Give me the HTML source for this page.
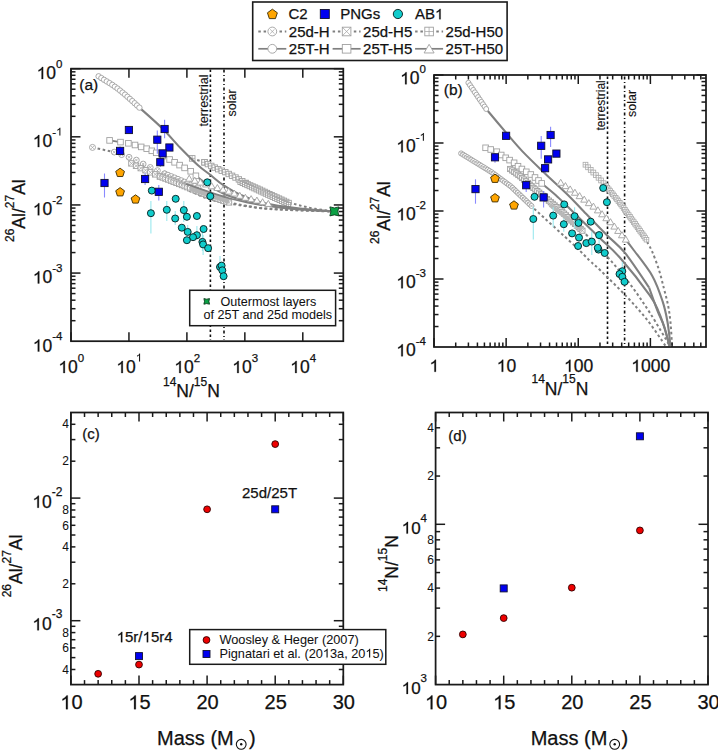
<!DOCTYPE html><html><head><meta charset="utf-8"><style>svg,text{font-family:"Liberation Sans",sans-serif}text{stroke:#111;stroke-width:0.25px}.o1{fill:transparent;stroke:transparent}html,body{margin:0;padding:0;background:#fff;width:718px;height:750px;overflow:hidden;position:relative}</style></head><body><svg width="718" height="750" viewBox="0 0 718 750" style="position:absolute;left:0;top:0" fill="#111">
<defs><clipPath id="ca"><rect x="71" y="68.4" width="272" height="272.8"/></clipPath><clipPath id="cb"><rect x="434" y="75" width="272" height="272"/></clipPath></defs>
<g clip-path="url(#ca)">
<line x1="210.4" y1="69.5" x2="210.4" y2="340" stroke="#111" stroke-width="1.6" stroke-dasharray="2.4,2.6"/>
<line x1="224" y1="69.5" x2="224" y2="340" stroke="#111" stroke-width="1.6" stroke-dasharray="3,2.4,1.2,2.4"/>
<text transform="translate(208.2,126.6) rotate(-90)" font-size="12.5" style="stroke-width:0.1px">terrestrial</text>
<text transform="translate(236,116.5) rotate(-90)" font-size="12.5" style="stroke-width:0.1px">solar</text>
<path d="M289.00,202.50 C290.83,203.00 295.67,204.45 300.00,205.50 C304.33,206.55 309.33,207.82 315.00,208.80 C320.67,209.78 330.83,210.97 334.00,211.40" fill="none" stroke="#808080" stroke-width="2.0" stroke-dasharray="2.6,2.6" stroke-linejoin="round"/>
<path d="M192.20,158.40 L204.50,162.30" fill="none" stroke="#808080" stroke-width="2.0" stroke-dasharray="2.6,2.6" stroke-linejoin="round"/>
<rect x="189.40" y="155.60" width="5.6" height="5.6" fill="#fff" stroke="#a0a0a0" stroke-width="0.9"/><path d="M192.20,155.60L192.20,161.20M189.40,158.40L195.00,158.40" stroke="#a0a0a0" stroke-width="0.7200000000000001"/>
<rect x="201.70" y="159.50" width="5.6" height="5.6" fill="#fff" stroke="#a0a0a0" stroke-width="0.9"/><path d="M204.50,159.50L204.50,165.10M201.70,162.30L207.30,162.30" stroke="#a0a0a0" stroke-width="0.7200000000000001"/>
<rect x="201.80" y="159.60" width="5.4" height="5.4" fill="#fff" stroke="#a0a0a0" stroke-width="0.9"/><path d="M204.50,159.60L204.50,165.00M201.80,162.30L207.20,162.30" stroke="#a0a0a0" stroke-width="0.7200000000000001"/>
<rect x="205.19" y="161.40" width="5.4" height="5.4" fill="#fff" stroke="#a0a0a0" stroke-width="0.9"/><path d="M207.89,161.40L207.89,166.80M205.19,164.10L210.59,164.10" stroke="#a0a0a0" stroke-width="0.7200000000000001"/>
<rect x="208.59" y="163.20" width="5.4" height="5.4" fill="#fff" stroke="#a0a0a0" stroke-width="0.9"/><path d="M211.29,163.20L211.29,168.60M208.59,165.90L213.99,165.90" stroke="#a0a0a0" stroke-width="0.7200000000000001"/>
<rect x="212.03" y="164.90" width="5.4" height="5.4" fill="#fff" stroke="#a0a0a0" stroke-width="0.9"/><path d="M214.73,164.90L214.73,170.30M212.03,167.60L217.43,167.60" stroke="#a0a0a0" stroke-width="0.7200000000000001"/>
<rect x="215.52" y="166.51" width="5.4" height="5.4" fill="#fff" stroke="#a0a0a0" stroke-width="0.9"/><path d="M218.22,166.51L218.22,171.91M215.52,169.21L220.92,169.21" stroke="#a0a0a0" stroke-width="0.7200000000000001"/>
<rect x="219.06" y="168.01" width="5.4" height="5.4" fill="#fff" stroke="#a0a0a0" stroke-width="0.9"/><path d="M221.76,168.01L221.76,173.41M219.06,170.71L224.46,170.71" stroke="#a0a0a0" stroke-width="0.7200000000000001"/>
<rect x="222.62" y="169.45" width="5.4" height="5.4" fill="#fff" stroke="#a0a0a0" stroke-width="0.9"/><path d="M225.32,169.45L225.32,174.85M222.62,172.15L228.02,172.15" stroke="#a0a0a0" stroke-width="0.7200000000000001"/>
<rect x="225.99" y="171.28" width="5.4" height="5.4" fill="#fff" stroke="#a0a0a0" stroke-width="0.9"/><path d="M228.69,171.28L228.69,176.68M225.99,173.98L231.39,173.98" stroke="#a0a0a0" stroke-width="0.7200000000000001"/>
<rect x="229.38" y="173.09" width="5.4" height="5.4" fill="#fff" stroke="#a0a0a0" stroke-width="0.9"/><path d="M232.08,173.09L232.08,178.49M229.38,175.79L234.78,175.79" stroke="#a0a0a0" stroke-width="0.7200000000000001"/>
<rect x="232.81" y="174.83" width="5.4" height="5.4" fill="#fff" stroke="#a0a0a0" stroke-width="0.9"/><path d="M235.51,174.83L235.51,180.23M232.81,177.53L238.21,177.53" stroke="#a0a0a0" stroke-width="0.7200000000000001"/>
<rect x="236.16" y="176.70" width="5.4" height="5.4" fill="#fff" stroke="#a0a0a0" stroke-width="0.9"/><path d="M238.86,176.70L238.86,182.10M236.16,179.40L241.56,179.40" stroke="#a0a0a0" stroke-width="0.7200000000000001"/>
<rect x="239.56" y="178.48" width="5.4" height="5.4" fill="#fff" stroke="#a0a0a0" stroke-width="0.9"/><path d="M242.26,178.48L242.26,183.88M239.56,181.18L244.96,181.18" stroke="#a0a0a0" stroke-width="0.7200000000000001"/>
<rect x="243.00" y="180.20" width="5.4" height="5.4" fill="#fff" stroke="#a0a0a0" stroke-width="0.9"/><path d="M245.70,180.20L245.70,185.60M243.00,182.90L248.40,182.90" stroke="#a0a0a0" stroke-width="0.7200000000000001"/>
<rect x="243.40" y="180.60" width="4.6" height="4.6" fill="#fff" stroke="#a0a0a0" stroke-width="0.9"/><path d="M245.70,180.60L245.70,185.20M243.40,182.90L248.00,182.90" stroke="#a0a0a0" stroke-width="0.7200000000000001"/>
<rect x="245.82" y="181.67" width="4.6" height="4.6" fill="#fff" stroke="#a0a0a0" stroke-width="0.9"/><path d="M248.12,181.67L248.12,186.27M245.82,183.97L250.42,183.97" stroke="#a0a0a0" stroke-width="0.7200000000000001"/>
<rect x="248.24" y="182.73" width="4.6" height="4.6" fill="#fff" stroke="#a0a0a0" stroke-width="0.9"/><path d="M250.54,182.73L250.54,187.33M248.24,185.03L252.84,185.03" stroke="#a0a0a0" stroke-width="0.7200000000000001"/>
<rect x="250.66" y="183.80" width="4.6" height="4.6" fill="#fff" stroke="#a0a0a0" stroke-width="0.9"/><path d="M252.96,183.80L252.96,188.40M250.66,186.10L255.26,186.10" stroke="#a0a0a0" stroke-width="0.7200000000000001"/>
<rect x="253.07" y="184.86" width="4.6" height="4.6" fill="#fff" stroke="#a0a0a0" stroke-width="0.9"/><path d="M255.37,184.86L255.37,189.46M253.07,187.16L257.67,187.16" stroke="#a0a0a0" stroke-width="0.7200000000000001"/>
<rect x="255.49" y="185.93" width="4.6" height="4.6" fill="#fff" stroke="#a0a0a0" stroke-width="0.9"/><path d="M257.79,185.93L257.79,190.53M255.49,188.23L260.09,188.23" stroke="#a0a0a0" stroke-width="0.7200000000000001"/>
<rect x="257.91" y="187.00" width="4.6" height="4.6" fill="#fff" stroke="#a0a0a0" stroke-width="0.9"/><path d="M260.21,187.00L260.21,191.60M257.91,189.30L262.51,189.30" stroke="#a0a0a0" stroke-width="0.7200000000000001"/>
<rect x="260.30" y="188.12" width="4.6" height="4.6" fill="#fff" stroke="#a0a0a0" stroke-width="0.9"/><path d="M262.60,188.12L262.60,192.72M260.30,190.42L264.90,190.42" stroke="#a0a0a0" stroke-width="0.7200000000000001"/>
<rect x="262.70" y="189.23" width="4.6" height="4.6" fill="#fff" stroke="#a0a0a0" stroke-width="0.9"/><path d="M265.00,189.23L265.00,193.83M262.70,191.53L267.30,191.53" stroke="#a0a0a0" stroke-width="0.7200000000000001"/>
<rect x="265.09" y="190.35" width="4.6" height="4.6" fill="#fff" stroke="#a0a0a0" stroke-width="0.9"/><path d="M267.39,190.35L267.39,194.95M265.09,192.65L269.69,192.65" stroke="#a0a0a0" stroke-width="0.7200000000000001"/>
<rect x="267.49" y="191.47" width="4.6" height="4.6" fill="#fff" stroke="#a0a0a0" stroke-width="0.9"/><path d="M269.79,191.47L269.79,196.07M267.49,193.77L272.09,193.77" stroke="#a0a0a0" stroke-width="0.7200000000000001"/>
<rect x="269.88" y="192.59" width="4.6" height="4.6" fill="#fff" stroke="#a0a0a0" stroke-width="0.9"/><path d="M272.18,192.59L272.18,197.19M269.88,194.89L274.48,194.89" stroke="#a0a0a0" stroke-width="0.7200000000000001"/>
<rect x="272.28" y="193.70" width="4.6" height="4.6" fill="#fff" stroke="#a0a0a0" stroke-width="0.9"/><path d="M274.58,193.70L274.58,198.30M272.28,196.00L276.88,196.00" stroke="#a0a0a0" stroke-width="0.7200000000000001"/>
<rect x="274.68" y="194.81" width="4.6" height="4.6" fill="#fff" stroke="#a0a0a0" stroke-width="0.9"/><path d="M276.98,194.81L276.98,199.41M274.68,197.11L279.28,197.11" stroke="#a0a0a0" stroke-width="0.7200000000000001"/>
<rect x="277.09" y="195.90" width="4.6" height="4.6" fill="#fff" stroke="#a0a0a0" stroke-width="0.9"/><path d="M279.39,195.90L279.39,200.50M277.09,198.20L281.69,198.20" stroke="#a0a0a0" stroke-width="0.7200000000000001"/>
<rect x="279.49" y="197.00" width="4.6" height="4.6" fill="#fff" stroke="#a0a0a0" stroke-width="0.9"/><path d="M281.79,197.00L281.79,201.60M279.49,199.30L284.09,199.30" stroke="#a0a0a0" stroke-width="0.7200000000000001"/>
<rect x="281.89" y="198.10" width="4.6" height="4.6" fill="#fff" stroke="#a0a0a0" stroke-width="0.9"/><path d="M284.19,198.10L284.19,202.70M281.89,200.40L286.49,200.40" stroke="#a0a0a0" stroke-width="0.7200000000000001"/>
<rect x="284.30" y="199.20" width="4.6" height="4.6" fill="#fff" stroke="#a0a0a0" stroke-width="0.9"/><path d="M286.60,199.20L286.60,203.80M284.30,201.50L288.90,201.50" stroke="#a0a0a0" stroke-width="0.7200000000000001"/>
<rect x="286.70" y="200.30" width="4.6" height="4.6" fill="#fff" stroke="#a0a0a0" stroke-width="0.9"/><path d="M289.00,200.30L289.00,204.90M286.70,202.60L291.30,202.60" stroke="#a0a0a0" stroke-width="0.7200000000000001"/>
<rect x="237.90" y="180.30" width="4.2" height="4.2" fill="#fff" stroke="#a0a0a0" stroke-width="0.9"/><path d="M240.00,180.30L240.00,184.50M237.90,182.40L242.10,182.40" stroke="#a0a0a0" stroke-width="0.7200000000000001"/>
<rect x="240.21" y="181.36" width="4.2" height="4.2" fill="#fff" stroke="#a0a0a0" stroke-width="0.9"/><path d="M242.31,181.36L242.31,185.56M240.21,183.46L244.41,183.46" stroke="#a0a0a0" stroke-width="0.7200000000000001"/>
<rect x="242.52" y="182.42" width="4.2" height="4.2" fill="#fff" stroke="#a0a0a0" stroke-width="0.9"/><path d="M244.62,182.42L244.62,186.62M242.52,184.52L246.72,184.52" stroke="#a0a0a0" stroke-width="0.7200000000000001"/>
<rect x="244.82" y="183.48" width="4.2" height="4.2" fill="#fff" stroke="#a0a0a0" stroke-width="0.9"/><path d="M246.92,183.48L246.92,187.68M244.82,185.58L249.02,185.58" stroke="#a0a0a0" stroke-width="0.7200000000000001"/>
<rect x="247.13" y="184.55" width="4.2" height="4.2" fill="#fff" stroke="#a0a0a0" stroke-width="0.9"/><path d="M249.23,184.55L249.23,188.75M247.13,186.65L251.33,186.65" stroke="#a0a0a0" stroke-width="0.7200000000000001"/>
<rect x="249.44" y="185.61" width="4.2" height="4.2" fill="#fff" stroke="#a0a0a0" stroke-width="0.9"/><path d="M251.54,185.61L251.54,189.81M249.44,187.71L253.64,187.71" stroke="#a0a0a0" stroke-width="0.7200000000000001"/>
<rect x="251.75" y="186.67" width="4.2" height="4.2" fill="#fff" stroke="#a0a0a0" stroke-width="0.9"/><path d="M253.85,186.67L253.85,190.87M251.75,188.77L255.95,188.77" stroke="#a0a0a0" stroke-width="0.7200000000000001"/>
<rect x="254.05" y="187.73" width="4.2" height="4.2" fill="#fff" stroke="#a0a0a0" stroke-width="0.9"/><path d="M256.15,187.73L256.15,191.93M254.05,189.83L258.25,189.83" stroke="#a0a0a0" stroke-width="0.7200000000000001"/>
<rect x="256.36" y="188.79" width="4.2" height="4.2" fill="#fff" stroke="#a0a0a0" stroke-width="0.9"/><path d="M258.46,188.79L258.46,192.99M256.36,190.89L260.56,190.89" stroke="#a0a0a0" stroke-width="0.7200000000000001"/>
<rect x="258.67" y="189.86" width="4.2" height="4.2" fill="#fff" stroke="#a0a0a0" stroke-width="0.9"/><path d="M260.77,189.86L260.77,194.06M258.67,191.96L262.87,191.96" stroke="#a0a0a0" stroke-width="0.7200000000000001"/>
<rect x="260.97" y="190.93" width="4.2" height="4.2" fill="#fff" stroke="#a0a0a0" stroke-width="0.9"/><path d="M263.07,190.93L263.07,195.13M260.97,193.03L265.17,193.03" stroke="#a0a0a0" stroke-width="0.7200000000000001"/>
<rect x="263.27" y="192.01" width="4.2" height="4.2" fill="#fff" stroke="#a0a0a0" stroke-width="0.9"/><path d="M265.37,192.01L265.37,196.21M263.27,194.11L267.47,194.11" stroke="#a0a0a0" stroke-width="0.7200000000000001"/>
<rect x="265.57" y="193.08" width="4.2" height="4.2" fill="#fff" stroke="#a0a0a0" stroke-width="0.9"/><path d="M267.67,193.08L267.67,197.28M265.57,195.18L269.77,195.18" stroke="#a0a0a0" stroke-width="0.7200000000000001"/>
<rect x="267.87" y="194.15" width="4.2" height="4.2" fill="#fff" stroke="#a0a0a0" stroke-width="0.9"/><path d="M269.97,194.15L269.97,198.35M267.87,196.25L272.07,196.25" stroke="#a0a0a0" stroke-width="0.7200000000000001"/>
<rect x="270.18" y="195.23" width="4.2" height="4.2" fill="#fff" stroke="#a0a0a0" stroke-width="0.9"/><path d="M272.28,195.23L272.28,199.43M270.18,197.33L274.38,197.33" stroke="#a0a0a0" stroke-width="0.7200000000000001"/>
<rect x="272.48" y="196.30" width="4.2" height="4.2" fill="#fff" stroke="#a0a0a0" stroke-width="0.9"/><path d="M274.58,196.30L274.58,200.50M272.48,198.40L276.68,198.40" stroke="#a0a0a0" stroke-width="0.7200000000000001"/>
<rect x="274.79" y="197.34" width="4.2" height="4.2" fill="#fff" stroke="#a0a0a0" stroke-width="0.9"/><path d="M276.89,197.34L276.89,201.54M274.79,199.44L278.99,199.44" stroke="#a0a0a0" stroke-width="0.7200000000000001"/>
<rect x="277.12" y="198.37" width="4.2" height="4.2" fill="#fff" stroke="#a0a0a0" stroke-width="0.9"/><path d="M279.22,198.37L279.22,202.57M277.12,200.47L281.32,200.47" stroke="#a0a0a0" stroke-width="0.7200000000000001"/>
<rect x="279.44" y="199.41" width="4.2" height="4.2" fill="#fff" stroke="#a0a0a0" stroke-width="0.9"/><path d="M281.54,199.41L281.54,203.61M279.44,201.51L283.64,201.51" stroke="#a0a0a0" stroke-width="0.7200000000000001"/>
<rect x="281.76" y="200.44" width="4.2" height="4.2" fill="#fff" stroke="#a0a0a0" stroke-width="0.9"/><path d="M283.86,200.44L283.86,204.64M281.76,202.54L285.96,202.54" stroke="#a0a0a0" stroke-width="0.7200000000000001"/>
<rect x="284.08" y="201.47" width="4.2" height="4.2" fill="#fff" stroke="#a0a0a0" stroke-width="0.9"/><path d="M286.18,201.47L286.18,205.67M284.08,203.57L288.28,203.57" stroke="#a0a0a0" stroke-width="0.7200000000000001"/>
<rect x="286.40" y="202.50" width="4.2" height="4.2" fill="#fff" stroke="#a0a0a0" stroke-width="0.9"/><path d="M288.50,202.50L288.50,206.70M286.40,204.60L290.60,204.60" stroke="#a0a0a0" stroke-width="0.7200000000000001"/>
<path d="M139.40,107.60 C143.23,111.08 155.63,121.85 162.40,128.50 C169.17,135.15 174.12,141.42 180.00,147.50 C185.88,153.58 192.55,160.35 197.70,165.00 C202.85,169.65 206.62,172.03 210.90,175.40 C215.18,178.77 218.55,182.00 223.40,185.20 C228.25,188.40 233.30,191.63 240.00,194.60 C246.70,197.57 253.60,200.67 263.60,203.00 C273.60,205.33 288.27,207.20 300.00,208.60 C311.73,210.00 328.33,210.93 334.00,211.40" fill="none" stroke="#808080" stroke-width="2.1" stroke-linejoin="round"/>
<circle cx="98.60" cy="76.30" r="2.7" fill="#fff" stroke="#a0a0a0" stroke-width="0.9"/>
<circle cx="101.31" cy="78.04" r="2.7" fill="#fff" stroke="#a0a0a0" stroke-width="0.9"/>
<circle cx="104.03" cy="79.78" r="2.7" fill="#fff" stroke="#a0a0a0" stroke-width="0.9"/>
<circle cx="106.79" cy="81.44" r="2.7" fill="#fff" stroke="#a0a0a0" stroke-width="0.9"/>
<circle cx="109.56" cy="83.09" r="2.7" fill="#fff" stroke="#a0a0a0" stroke-width="0.9"/>
<circle cx="112.26" cy="84.85" r="2.7" fill="#fff" stroke="#a0a0a0" stroke-width="0.9"/>
<circle cx="114.90" cy="86.70" r="2.7" fill="#fff" stroke="#a0a0a0" stroke-width="0.9"/>
<circle cx="117.54" cy="88.55" r="2.7" fill="#fff" stroke="#a0a0a0" stroke-width="0.9"/>
<circle cx="120.06" cy="90.55" r="2.7" fill="#fff" stroke="#a0a0a0" stroke-width="0.9"/>
<circle cx="122.56" cy="92.58" r="2.7" fill="#fff" stroke="#a0a0a0" stroke-width="0.9"/>
<circle cx="125.06" cy="94.63" r="2.7" fill="#fff" stroke="#a0a0a0" stroke-width="0.9"/>
<circle cx="127.47" cy="96.76" r="2.7" fill="#fff" stroke="#a0a0a0" stroke-width="0.9"/>
<circle cx="129.88" cy="98.90" r="2.7" fill="#fff" stroke="#a0a0a0" stroke-width="0.9"/>
<circle cx="132.29" cy="101.05" r="2.7" fill="#fff" stroke="#a0a0a0" stroke-width="0.9"/>
<circle cx="134.66" cy="103.23" r="2.7" fill="#fff" stroke="#a0a0a0" stroke-width="0.9"/>
<circle cx="137.03" cy="105.42" r="2.7" fill="#fff" stroke="#a0a0a0" stroke-width="0.9"/>
<circle cx="139.40" cy="107.60" r="2.7" fill="#fff" stroke="#a0a0a0" stroke-width="0.9"/>
<path d="M195.90,175.80 C197.25,176.83 200.82,179.80 204.00,182.00 C207.18,184.20 211.00,186.75 215.00,189.00 C219.00,191.25 223.00,193.53 228.00,195.50 C233.00,197.47 238.00,199.02 245.00,200.80 C252.00,202.58 260.83,204.75 270.00,206.20 C279.17,207.65 289.33,208.63 300.00,209.50 C310.67,210.37 328.33,211.08 334.00,211.40" fill="none" stroke="#808080" stroke-width="2.1" stroke-linejoin="round"/>
<path d="M109.60,140.40 L120.50,142.10" fill="none" stroke="#808080" stroke-width="1.6" stroke-linejoin="round"/>
<rect x="106.80" y="137.60" width="5.6" height="5.6" fill="#fff" stroke="#a0a0a0" stroke-width="0.9"/>
<rect x="117.70" y="139.30" width="5.6" height="5.6" fill="#fff" stroke="#a0a0a0" stroke-width="0.9"/>
<rect x="125.60" y="140.50" width="5.6" height="5.6" fill="#fff" stroke="#a0a0a0" stroke-width="0.9"/>
<rect x="132.20" y="142.20" width="5.6" height="5.6" fill="#fff" stroke="#a0a0a0" stroke-width="0.9"/>
<rect x="138.40" y="144.10" width="5.6" height="5.6" fill="#fff" stroke="#a0a0a0" stroke-width="0.9"/>
<rect x="143.90" y="145.90" width="5.6" height="5.6" fill="#fff" stroke="#a0a0a0" stroke-width="0.9"/>
<rect x="149.00" y="148.00" width="5.6" height="5.6" fill="#fff" stroke="#a0a0a0" stroke-width="0.9"/>
<rect x="153.40" y="150.00" width="5.6" height="5.6" fill="#fff" stroke="#a0a0a0" stroke-width="0.9"/>
<rect x="160.10" y="153.30" width="5.6" height="5.6" fill="#fff" stroke="#a0a0a0" stroke-width="0.9"/>
<rect x="166.80" y="156.70" width="5.6" height="5.6" fill="#fff" stroke="#a0a0a0" stroke-width="0.9"/>
<rect x="171.80" y="159.50" width="5.6" height="5.6" fill="#fff" stroke="#a0a0a0" stroke-width="0.9"/>
<rect x="176.80" y="162.30" width="5.6" height="5.6" fill="#fff" stroke="#a0a0a0" stroke-width="0.9"/>
<rect x="181.80" y="165.10" width="5.6" height="5.6" fill="#fff" stroke="#a0a0a0" stroke-width="0.9"/>
<rect x="187.90" y="168.50" width="5.6" height="5.6" fill="#fff" stroke="#a0a0a0" stroke-width="0.9"/>
<rect x="193.10" y="173.00" width="5.6" height="5.6" fill="#fff" stroke="#a0a0a0" stroke-width="0.9"/>
<path d="M92.50,147.40 L114.20,152.10" fill="none" stroke="#808080" stroke-width="2.0" stroke-dasharray="2.6,2.6" stroke-linejoin="round"/>
<path d="M189.00,190.50 C191.58,191.68 199.83,195.80 204.50,197.60 C209.17,199.40 212.58,200.27 217.00,201.30 C221.42,202.33 222.17,202.52 231.00,203.80 C239.83,205.08 252.83,207.70 270.00,209.00 C287.17,210.30 323.33,211.17 334.00,211.60" fill="none" stroke="#808080" stroke-width="2.0" stroke-dasharray="2.6,2.6" stroke-linejoin="round"/>
<circle cx="92.50" cy="147.40" r="3" fill="#fff" stroke="#a0a0a0" stroke-width="0.9"/><path d="M91.00,145.90L94.00,148.90M94.00,145.90L91.00,148.90" stroke="#a0a0a0" stroke-width="0.7200000000000001"/>
<circle cx="114.20" cy="152.10" r="2.9" fill="#fff" stroke="#a0a0a0" stroke-width="0.9"/><path d="M112.75,150.65L115.65,153.55M115.65,150.65L112.75,153.55" stroke="#a0a0a0" stroke-width="0.7200000000000001"/>
<circle cx="121.63" cy="154.65" r="2.9" fill="#fff" stroke="#a0a0a0" stroke-width="0.9"/><path d="M120.18,153.20L123.08,156.10M123.08,153.20L120.18,156.10" stroke="#a0a0a0" stroke-width="0.7200000000000001"/>
<circle cx="129.04" cy="157.26" r="2.9" fill="#fff" stroke="#a0a0a0" stroke-width="0.9"/><path d="M127.59,155.81L130.49,158.71M130.49,155.81L127.59,158.71" stroke="#a0a0a0" stroke-width="0.7200000000000001"/>
<circle cx="136.37" cy="160.09" r="2.9" fill="#fff" stroke="#a0a0a0" stroke-width="0.9"/><path d="M134.92,158.64L137.82,161.54M137.82,158.64L134.92,161.54" stroke="#a0a0a0" stroke-width="0.7200000000000001"/>
<circle cx="143.17" cy="164.01" r="2.9" fill="#fff" stroke="#a0a0a0" stroke-width="0.9"/><path d="M141.72,162.56L144.62,165.46M144.62,162.56L141.72,165.46" stroke="#a0a0a0" stroke-width="0.7200000000000001"/>
<circle cx="150.24" cy="167.43" r="2.9" fill="#fff" stroke="#a0a0a0" stroke-width="0.9"/><path d="M148.79,165.98L151.69,168.88M151.69,165.98L148.79,168.88" stroke="#a0a0a0" stroke-width="0.7200000000000001"/>
<circle cx="157.43" cy="170.59" r="2.9" fill="#fff" stroke="#a0a0a0" stroke-width="0.9"/><path d="M155.98,169.14L158.88,172.04M158.88,169.14L155.98,172.04" stroke="#a0a0a0" stroke-width="0.7200000000000001"/>
<circle cx="164.60" cy="173.80" r="2.9" fill="#fff" stroke="#a0a0a0" stroke-width="0.9"/><path d="M163.15,172.35L166.05,175.25M166.05,172.35L163.15,175.25" stroke="#a0a0a0" stroke-width="0.7200000000000001"/>
<circle cx="164.60" cy="173.80" r="2.9" fill="#fff" stroke="#a0a0a0" stroke-width="0.9"/><path d="M163.15,172.35L166.05,175.25M166.05,172.35L163.15,175.25" stroke="#a0a0a0" stroke-width="0.7200000000000001"/>
<circle cx="167.95" cy="175.15" r="2.9" fill="#fff" stroke="#a0a0a0" stroke-width="0.9"/><path d="M166.50,173.70L169.40,176.60M169.40,173.70L166.50,176.60" stroke="#a0a0a0" stroke-width="0.7200000000000001"/>
<circle cx="171.29" cy="176.50" r="2.9" fill="#fff" stroke="#a0a0a0" stroke-width="0.9"/><path d="M169.84,175.05L172.74,177.95M172.74,175.05L169.84,177.95" stroke="#a0a0a0" stroke-width="0.7200000000000001"/>
<circle cx="174.64" cy="177.86" r="2.9" fill="#fff" stroke="#a0a0a0" stroke-width="0.9"/><path d="M173.19,176.41L176.09,179.31M176.09,176.41L173.19,179.31" stroke="#a0a0a0" stroke-width="0.7200000000000001"/>
<circle cx="177.97" cy="179.24" r="2.9" fill="#fff" stroke="#a0a0a0" stroke-width="0.9"/><path d="M176.52,177.79L179.42,180.69M179.42,177.79L176.52,180.69" stroke="#a0a0a0" stroke-width="0.7200000000000001"/>
<circle cx="181.31" cy="180.64" r="2.9" fill="#fff" stroke="#a0a0a0" stroke-width="0.9"/><path d="M179.86,179.19L182.76,182.09M182.76,179.19L179.86,182.09" stroke="#a0a0a0" stroke-width="0.7200000000000001"/>
<circle cx="184.64" cy="182.03" r="2.9" fill="#fff" stroke="#a0a0a0" stroke-width="0.9"/><path d="M183.19,180.58L186.09,183.48M186.09,180.58L183.19,183.48" stroke="#a0a0a0" stroke-width="0.7200000000000001"/>
<circle cx="187.97" cy="183.41" r="2.9" fill="#fff" stroke="#a0a0a0" stroke-width="0.9"/><path d="M186.52,181.96L189.42,184.86M189.42,181.96L186.52,184.86" stroke="#a0a0a0" stroke-width="0.7200000000000001"/>
<circle cx="191.32" cy="184.77" r="2.9" fill="#fff" stroke="#a0a0a0" stroke-width="0.9"/><path d="M189.87,183.32L192.77,186.22M192.77,183.32L189.87,186.22" stroke="#a0a0a0" stroke-width="0.7200000000000001"/>
<circle cx="194.66" cy="186.14" r="2.9" fill="#fff" stroke="#a0a0a0" stroke-width="0.9"/><path d="M193.21,184.69L196.11,187.59M196.11,184.69L193.21,187.59" stroke="#a0a0a0" stroke-width="0.7200000000000001"/>
<circle cx="198.00" cy="187.50" r="2.9" fill="#fff" stroke="#a0a0a0" stroke-width="0.9"/><path d="M196.55,186.05L199.45,188.95M199.45,186.05L196.55,188.95" stroke="#a0a0a0" stroke-width="0.7200000000000001"/>
<path d="M229.00,202.40 C231.67,202.93 238.17,204.53 245.00,205.60 C251.83,206.67 255.17,207.83 270.00,208.80 C284.83,209.77 323.33,210.97 334.00,211.40" fill="none" stroke="#808080" stroke-width="2.0" stroke-dasharray="2.6,2.6" stroke-linejoin="round"/>
<rect x="128.70" y="160.70" width="5.4" height="5.4" fill="#fff" stroke="#a0a0a0" stroke-width="0.9"/><path d="M128.70,160.70L134.10,166.10M134.10,160.70L128.70,166.10" stroke="#a0a0a0" stroke-width="0.7200000000000001"/>
<rect x="133.36" y="163.09" width="5.4" height="5.4" fill="#fff" stroke="#a0a0a0" stroke-width="0.9"/><path d="M133.36,163.09L138.76,168.49M138.76,163.09L133.36,168.49" stroke="#a0a0a0" stroke-width="0.7200000000000001"/>
<rect x="138.05" y="165.43" width="5.4" height="5.4" fill="#fff" stroke="#a0a0a0" stroke-width="0.9"/><path d="M138.05,165.43L143.45,170.83M143.45,165.43L138.05,170.83" stroke="#a0a0a0" stroke-width="0.7200000000000001"/>
<rect x="142.84" y="167.54" width="5.4" height="5.4" fill="#fff" stroke="#a0a0a0" stroke-width="0.9"/><path d="M142.84,167.54L148.24,172.94M148.24,167.54L142.84,172.94" stroke="#a0a0a0" stroke-width="0.7200000000000001"/>
<rect x="147.64" y="169.64" width="5.4" height="5.4" fill="#fff" stroke="#a0a0a0" stroke-width="0.9"/><path d="M147.64,169.64L153.04,175.04M153.04,169.64L147.64,175.04" stroke="#a0a0a0" stroke-width="0.7200000000000001"/>
<rect x="152.47" y="171.67" width="5.4" height="5.4" fill="#fff" stroke="#a0a0a0" stroke-width="0.9"/><path d="M152.47,171.67L157.87,177.07M157.87,171.67L152.47,177.07" stroke="#a0a0a0" stroke-width="0.7200000000000001"/>
<rect x="157.30" y="173.70" width="5.4" height="5.4" fill="#fff" stroke="#a0a0a0" stroke-width="0.9"/><path d="M157.30,173.70L162.70,179.10M162.70,173.70L157.30,179.10" stroke="#a0a0a0" stroke-width="0.7200000000000001"/>
<rect x="157.30" y="173.70" width="5.4" height="5.4" fill="#fff" stroke="#a0a0a0" stroke-width="0.9"/><path d="M157.30,173.70L162.70,179.10M162.70,173.70L157.30,179.10" stroke="#a0a0a0" stroke-width="0.7200000000000001"/>
<rect x="160.06" y="174.75" width="5.4" height="5.4" fill="#fff" stroke="#a0a0a0" stroke-width="0.9"/><path d="M160.06,174.75L165.46,180.15M165.46,174.75L160.06,180.15" stroke="#a0a0a0" stroke-width="0.7200000000000001"/>
<rect x="162.82" y="175.80" width="5.4" height="5.4" fill="#fff" stroke="#a0a0a0" stroke-width="0.9"/><path d="M162.82,175.80L168.22,181.20M168.22,175.80L162.82,181.20" stroke="#a0a0a0" stroke-width="0.7200000000000001"/>
<rect x="165.57" y="176.84" width="5.4" height="5.4" fill="#fff" stroke="#a0a0a0" stroke-width="0.9"/><path d="M165.57,176.84L170.97,182.24M170.97,176.84L165.57,182.24" stroke="#a0a0a0" stroke-width="0.7200000000000001"/>
<rect x="168.32" y="177.91" width="5.4" height="5.4" fill="#fff" stroke="#a0a0a0" stroke-width="0.9"/><path d="M168.32,177.91L173.72,183.31M173.72,177.91L168.32,183.31" stroke="#a0a0a0" stroke-width="0.7200000000000001"/>
<rect x="171.06" y="179.01" width="5.4" height="5.4" fill="#fff" stroke="#a0a0a0" stroke-width="0.9"/><path d="M171.06,179.01L176.46,184.41M176.46,179.01L171.06,184.41" stroke="#a0a0a0" stroke-width="0.7200000000000001"/>
<rect x="173.80" y="180.10" width="5.4" height="5.4" fill="#fff" stroke="#a0a0a0" stroke-width="0.9"/><path d="M173.80,180.10L179.20,185.50M179.20,180.10L173.80,185.50" stroke="#a0a0a0" stroke-width="0.7200000000000001"/>
<rect x="176.54" y="181.20" width="5.4" height="5.4" fill="#fff" stroke="#a0a0a0" stroke-width="0.9"/><path d="M176.54,181.20L181.94,186.60M181.94,181.20L176.54,186.60" stroke="#a0a0a0" stroke-width="0.7200000000000001"/>
<rect x="179.28" y="182.29" width="5.4" height="5.4" fill="#fff" stroke="#a0a0a0" stroke-width="0.9"/><path d="M179.28,182.29L184.68,187.69M184.68,182.29L179.28,187.69" stroke="#a0a0a0" stroke-width="0.7200000000000001"/>
<rect x="182.02" y="183.39" width="5.4" height="5.4" fill="#fff" stroke="#a0a0a0" stroke-width="0.9"/><path d="M182.02,183.39L187.42,188.79M187.42,183.39L182.02,188.79" stroke="#a0a0a0" stroke-width="0.7200000000000001"/>
<rect x="184.76" y="184.48" width="5.4" height="5.4" fill="#fff" stroke="#a0a0a0" stroke-width="0.9"/><path d="M184.76,184.48L190.16,189.88M190.16,184.48L184.76,189.88" stroke="#a0a0a0" stroke-width="0.7200000000000001"/>
<rect x="187.50" y="185.58" width="5.4" height="5.4" fill="#fff" stroke="#a0a0a0" stroke-width="0.9"/><path d="M187.50,185.58L192.90,190.98M192.90,185.58L187.50,190.98" stroke="#a0a0a0" stroke-width="0.7200000000000001"/>
<rect x="190.24" y="186.68" width="5.4" height="5.4" fill="#fff" stroke="#a0a0a0" stroke-width="0.9"/><path d="M190.24,186.68L195.64,192.08M195.64,186.68L190.24,192.08" stroke="#a0a0a0" stroke-width="0.7200000000000001"/>
<rect x="192.98" y="187.77" width="5.4" height="5.4" fill="#fff" stroke="#a0a0a0" stroke-width="0.9"/><path d="M192.98,187.77L198.38,193.17M198.38,187.77L192.98,193.17" stroke="#a0a0a0" stroke-width="0.7200000000000001"/>
<rect x="195.72" y="188.87" width="5.4" height="5.4" fill="#fff" stroke="#a0a0a0" stroke-width="0.9"/><path d="M195.72,188.87L201.12,194.27M201.12,188.87L195.72,194.27" stroke="#a0a0a0" stroke-width="0.7200000000000001"/>
<rect x="198.47" y="189.94" width="5.4" height="5.4" fill="#fff" stroke="#a0a0a0" stroke-width="0.9"/><path d="M198.47,189.94L203.87,195.34M203.87,189.94L198.47,195.34" stroke="#a0a0a0" stroke-width="0.7200000000000001"/>
<rect x="201.22" y="190.99" width="5.4" height="5.4" fill="#fff" stroke="#a0a0a0" stroke-width="0.9"/><path d="M201.22,190.99L206.62,196.39M206.62,190.99L201.22,196.39" stroke="#a0a0a0" stroke-width="0.7200000000000001"/>
<rect x="203.98" y="192.04" width="5.4" height="5.4" fill="#fff" stroke="#a0a0a0" stroke-width="0.9"/><path d="M203.98,192.04L209.38,197.44M209.38,192.04L203.98,197.44" stroke="#a0a0a0" stroke-width="0.7200000000000001"/>
<rect x="206.74" y="193.09" width="5.4" height="5.4" fill="#fff" stroke="#a0a0a0" stroke-width="0.9"/><path d="M206.74,193.09L212.14,198.49M212.14,193.09L206.74,198.49" stroke="#a0a0a0" stroke-width="0.7200000000000001"/>
<rect x="209.51" y="194.10" width="5.4" height="5.4" fill="#fff" stroke="#a0a0a0" stroke-width="0.9"/><path d="M209.51,194.10L214.91,199.50M214.91,194.10L209.51,199.50" stroke="#a0a0a0" stroke-width="0.7200000000000001"/>
<rect x="212.29" y="195.10" width="5.4" height="5.4" fill="#fff" stroke="#a0a0a0" stroke-width="0.9"/><path d="M212.29,195.10L217.69,200.50M217.69,195.10L212.29,200.50" stroke="#a0a0a0" stroke-width="0.7200000000000001"/>
<rect x="215.06" y="196.10" width="5.4" height="5.4" fill="#fff" stroke="#a0a0a0" stroke-width="0.9"/><path d="M215.06,196.10L220.46,201.50M220.46,196.10L215.06,201.50" stroke="#a0a0a0" stroke-width="0.7200000000000001"/>
<rect x="217.85" y="197.07" width="5.4" height="5.4" fill="#fff" stroke="#a0a0a0" stroke-width="0.9"/><path d="M217.85,197.07L223.25,202.47M223.25,197.07L217.85,202.47" stroke="#a0a0a0" stroke-width="0.7200000000000001"/>
<rect x="220.67" y="197.95" width="5.4" height="5.4" fill="#fff" stroke="#a0a0a0" stroke-width="0.9"/><path d="M220.67,197.95L226.07,203.35M226.07,197.95L220.67,203.35" stroke="#a0a0a0" stroke-width="0.7200000000000001"/>
<rect x="223.48" y="198.82" width="5.4" height="5.4" fill="#fff" stroke="#a0a0a0" stroke-width="0.9"/><path d="M223.48,198.82L228.88,204.22M228.88,198.82L223.48,204.22" stroke="#a0a0a0" stroke-width="0.7200000000000001"/>
<rect x="226.30" y="199.70" width="5.4" height="5.4" fill="#fff" stroke="#a0a0a0" stroke-width="0.9"/><path d="M226.30,199.70L231.70,205.10M231.70,199.70L226.30,205.10" stroke="#a0a0a0" stroke-width="0.7200000000000001"/>
<path d="M190.00,188.50 L229.00,201.50" fill="none" stroke="#b4b4b4" stroke-width="4.5" stroke-linejoin="round"/>
<path d="M186.00,184.00 C193.17,186.37 216.33,194.62 229.00,198.20 C241.67,201.78 256.50,204.28 262.00,205.50" fill="none" stroke="#808080" stroke-width="1.6" stroke-linejoin="round"/>
<path d="M189.20,175.16L192.70,181.22L185.70,181.22Z" fill="#fff" stroke="#a0a0a0" stroke-width="0.9" stroke-linejoin="miter"/>
<path d="M194.79,177.16L198.29,183.23L191.29,183.23Z" fill="#fff" stroke="#a0a0a0" stroke-width="0.9" stroke-linejoin="miter"/>
<path d="M200.41,179.08L203.91,185.14L196.91,185.14Z" fill="#fff" stroke="#a0a0a0" stroke-width="0.9" stroke-linejoin="miter"/>
<path d="M206.05,180.92L209.55,186.98L202.55,186.98Z" fill="#fff" stroke="#a0a0a0" stroke-width="0.9" stroke-linejoin="miter"/>
<path d="M211.69,182.76L215.19,188.83L208.19,188.83Z" fill="#fff" stroke="#a0a0a0" stroke-width="0.9" stroke-linejoin="miter"/>
<path d="M217.38,184.47L220.88,190.53L213.88,190.53Z" fill="#fff" stroke="#a0a0a0" stroke-width="0.9" stroke-linejoin="miter"/>
<path d="M223.07,186.16L226.57,192.22L219.57,192.22Z" fill="#fff" stroke="#a0a0a0" stroke-width="0.9" stroke-linejoin="miter"/>
<path d="M228.70,188.03L232.20,194.09L225.20,194.09Z" fill="#fff" stroke="#a0a0a0" stroke-width="0.9" stroke-linejoin="miter"/>
<path d="M234.29,190.01L237.79,196.07L230.79,196.07Z" fill="#fff" stroke="#a0a0a0" stroke-width="0.9" stroke-linejoin="miter"/>
<path d="M239.79,192.25L243.29,198.31L236.29,198.31Z" fill="#fff" stroke="#a0a0a0" stroke-width="0.9" stroke-linejoin="miter"/>
<path d="M245.37,194.22L248.87,200.29L241.87,200.29Z" fill="#fff" stroke="#a0a0a0" stroke-width="0.9" stroke-linejoin="miter"/>
<path d="M251.13,195.64L254.63,201.70L247.63,201.70Z" fill="#fff" stroke="#a0a0a0" stroke-width="0.9" stroke-linejoin="miter"/>
<path d="M256.90,197.06L260.40,203.12L253.40,203.12Z" fill="#fff" stroke="#a0a0a0" stroke-width="0.9" stroke-linejoin="miter"/>
<path d="M262.60,198.71L266.10,204.77L259.10,204.77Z" fill="#fff" stroke="#a0a0a0" stroke-width="0.9" stroke-linejoin="miter"/>
<path d="M268.30,200.36L271.80,206.42L264.80,206.42Z" fill="#fff" stroke="#a0a0a0" stroke-width="0.9" stroke-linejoin="miter"/>
<line x1="164.60" y1="119.70" x2="164.60" y2="138.20" stroke="#8a8aff" stroke-width="1.1"/>
<line x1="157.30" y1="130.40" x2="157.30" y2="153.80" stroke="#8a8aff" stroke-width="1.1"/>
<line x1="120.10" y1="146.50" x2="120.10" y2="155.50" stroke="#8a8aff" stroke-width="1.1"/>
<line x1="160.30" y1="157.00" x2="160.30" y2="167.00" stroke="#8a8aff" stroke-width="1.1"/>
<line x1="145.10" y1="173.30" x2="145.10" y2="185.00" stroke="#8a8aff" stroke-width="1.1"/>
<line x1="104.50" y1="173.40" x2="104.50" y2="197.60" stroke="#8a8aff" stroke-width="1.1"/>
<line x1="158.80" y1="185.00" x2="158.80" y2="200.60" stroke="#8a8aff" stroke-width="1.1"/>
<line x1="150.90" y1="201.00" x2="150.90" y2="233.50" stroke="#9ae8ee" stroke-width="1.1"/>
<line x1="166.80" y1="201.00" x2="166.80" y2="221.00" stroke="#9ae8ee" stroke-width="1.1"/>
<line x1="183.80" y1="201.00" x2="183.80" y2="222.00" stroke="#9ae8ee" stroke-width="1.1"/>
<line x1="175.20" y1="211.00" x2="175.20" y2="225.00" stroke="#9ae8ee" stroke-width="1.1"/>
<line x1="187.70" y1="225.00" x2="187.70" y2="235.00" stroke="#9ae8ee" stroke-width="1.1"/>
<line x1="196.90" y1="226.00" x2="196.90" y2="240.00" stroke="#9ae8ee" stroke-width="1.1"/>
<line x1="202.40" y1="225.00" x2="202.40" y2="251.00" stroke="#9ae8ee" stroke-width="1.1"/>
<line x1="203.10" y1="235.00" x2="203.10" y2="255.00" stroke="#9ae8ee" stroke-width="1.1"/>
<line x1="220.00" y1="256.00" x2="220.00" y2="270.00" stroke="#9ae8ee" stroke-width="1.1"/>
<circle cx="207.30" cy="182.30" r="3.5" fill="#10cccc" stroke="#0a2424" stroke-width="0.95"/>
<circle cx="210.30" cy="196.20" r="3.5" fill="#10cccc" stroke="#0a2424" stroke-width="0.95"/>
<circle cx="151.80" cy="190.60" r="3.5" fill="#10cccc" stroke="#0a2424" stroke-width="0.95"/>
<circle cx="175.70" cy="198.80" r="3.5" fill="#10cccc" stroke="#0a2424" stroke-width="0.95"/>
<circle cx="150.90" cy="213.20" r="3.5" fill="#10cccc" stroke="#0a2424" stroke-width="0.95"/>
<circle cx="166.80" cy="209.80" r="3.5" fill="#10cccc" stroke="#0a2424" stroke-width="0.95"/>
<circle cx="183.80" cy="210.10" r="3.5" fill="#10cccc" stroke="#0a2424" stroke-width="0.95"/>
<circle cx="175.20" cy="218.50" r="3.5" fill="#10cccc" stroke="#0a2424" stroke-width="0.95"/>
<circle cx="186.90" cy="216.80" r="3.5" fill="#10cccc" stroke="#0a2424" stroke-width="0.95"/>
<circle cx="196.90" cy="216.00" r="3.5" fill="#10cccc" stroke="#0a2424" stroke-width="0.95"/>
<circle cx="181.80" cy="227.70" r="3.5" fill="#10cccc" stroke="#0a2424" stroke-width="0.95"/>
<circle cx="187.70" cy="231.90" r="3.5" fill="#10cccc" stroke="#0a2424" stroke-width="0.95"/>
<circle cx="196.90" cy="235.20" r="3.5" fill="#10cccc" stroke="#0a2424" stroke-width="0.95"/>
<circle cx="193.00" cy="237.20" r="3.5" fill="#10cccc" stroke="#0a2424" stroke-width="0.95"/>
<circle cx="186.90" cy="240.20" r="3.5" fill="#10cccc" stroke="#0a2424" stroke-width="0.95"/>
<circle cx="203.60" cy="229.00" r="3.5" fill="#10cccc" stroke="#0a2424" stroke-width="0.95"/>
<circle cx="202.40" cy="241.90" r="3.5" fill="#10cccc" stroke="#0a2424" stroke-width="0.95"/>
<circle cx="203.10" cy="244.40" r="3.5" fill="#10cccc" stroke="#0a2424" stroke-width="0.95"/>
<circle cx="208.10" cy="248.20" r="3.5" fill="#10cccc" stroke="#0a2424" stroke-width="0.95"/>
<circle cx="220.00" cy="267.00" r="3.5" fill="#10cccc" stroke="#0a2424" stroke-width="0.95"/>
<circle cx="221.60" cy="265.60" r="3.5" fill="#10cccc" stroke="#0a2424" stroke-width="0.95"/>
<circle cx="222.30" cy="270.30" r="3.5" fill="#10cccc" stroke="#0a2424" stroke-width="0.95"/>
<circle cx="223.60" cy="276.20" r="3.5" fill="#10cccc" stroke="#0a2424" stroke-width="0.95"/>
<rect x="125.30" y="126.40" width="7.2" height="7.2" fill="#0000f0" stroke="#101030" stroke-width="0.9"/>
<rect x="161.00" y="125.40" width="7.2" height="7.2" fill="#0000f0" stroke="#101030" stroke-width="0.9"/>
<rect x="153.70" y="136.10" width="7.2" height="7.2" fill="#0000f0" stroke="#101030" stroke-width="0.9"/>
<rect x="165.80" y="143.90" width="7.2" height="7.2" fill="#0000f0" stroke="#101030" stroke-width="0.9"/>
<rect x="116.50" y="147.30" width="7.2" height="7.2" fill="#0000f0" stroke="#101030" stroke-width="0.9"/>
<rect x="159.00" y="149.80" width="7.2" height="7.2" fill="#0000f0" stroke="#101030" stroke-width="0.9"/>
<rect x="156.70" y="158.60" width="7.2" height="7.2" fill="#0000f0" stroke="#101030" stroke-width="0.9"/>
<rect x="141.50" y="175.40" width="7.2" height="7.2" fill="#0000f0" stroke="#101030" stroke-width="0.9"/>
<rect x="100.90" y="179.40" width="7.2" height="7.2" fill="#0000f0" stroke="#101030" stroke-width="0.9"/>
<rect x="155.20" y="188.20" width="7.2" height="7.2" fill="#0000f0" stroke="#101030" stroke-width="0.9"/>
<path d="M120.10,168.20 L124.47,171.38 L122.80,176.52 L117.40,176.52 L115.73,171.38Z" fill="#ffa500" stroke="#3a2a00" stroke-width="0.9"/>
<path d="M120.10,187.60 L124.47,190.78 L122.80,195.92 L117.40,195.92 L115.73,190.78Z" fill="#ffa500" stroke="#3a2a00" stroke-width="0.9"/>
<path d="M135.50,194.80 L139.87,197.98 L138.20,203.12 L132.80,203.12 L131.13,197.98Z" fill="#ffa500" stroke="#3a2a00" stroke-width="0.9"/>
<path d="M329.90,206.90 Q334.40,208.93 338.90,206.90 Q336.88,211.40 338.90,215.90 Q334.40,213.88 329.90,215.90 Q331.92,211.40 329.90,206.90Z" fill="#0aa044" stroke="#063a18" stroke-width="0.9"/>
</g>
<g clip-path="url(#cb)">
<line x1="607.5" y1="76.5" x2="607.5" y2="346" stroke="#111" stroke-width="1.6" stroke-dasharray="2.4,2.6"/>
<line x1="624.6" y1="76.5" x2="624.6" y2="346" stroke="#111" stroke-width="1.6" stroke-dasharray="3,2.4,1.2,2.4"/>
<text transform="translate(604.5,130.6) rotate(-90)" font-size="12.1" style="stroke-width:0.1px">terrestrial</text>
<text transform="translate(635.8,116.9) rotate(-90)" font-size="12.5" style="stroke-width:0.1px">solar</text>
<path d="M647.20,242.00 C648.05,243.65 650.33,247.23 652.30,251.90 C654.27,256.57 657.05,263.85 659.00,270.00 C660.95,276.15 662.50,282.97 664.00,288.80 C665.50,294.63 666.92,299.40 668.00,305.00 C669.08,310.60 669.83,315.57 670.50,322.40 C671.17,329.23 671.75,342.07 672.00,346.00" fill="none" stroke="#808080" stroke-width="2.0" stroke-dasharray="2.6,2.6" stroke-linejoin="round"/>
<rect x="583.10" y="162.30" width="4.8" height="4.8" fill="#fff" stroke="#a8a8a8" stroke-width="0.8"/><path d="M585.50,162.30L585.50,167.10M583.10,164.70L587.90,164.70" stroke="#a8a8a8" stroke-width="0.6400000000000001"/>
<rect x="585.71" y="164.91" width="4.8" height="4.8" fill="#fff" stroke="#a8a8a8" stroke-width="0.8"/><path d="M588.11,164.91L588.11,169.71M585.71,167.31L590.51,167.31" stroke="#a8a8a8" stroke-width="0.6400000000000001"/>
<rect x="588.33" y="167.53" width="4.8" height="4.8" fill="#fff" stroke="#a8a8a8" stroke-width="0.8"/><path d="M590.73,167.53L590.73,172.33M588.33,169.93L593.13,169.93" stroke="#a8a8a8" stroke-width="0.6400000000000001"/>
<rect x="590.94" y="170.14" width="4.8" height="4.8" fill="#fff" stroke="#a8a8a8" stroke-width="0.8"/><path d="M593.34,170.14L593.34,174.94M590.94,172.54L595.74,172.54" stroke="#a8a8a8" stroke-width="0.6400000000000001"/>
<rect x="593.56" y="172.76" width="4.8" height="4.8" fill="#fff" stroke="#a8a8a8" stroke-width="0.8"/><path d="M595.96,172.76L595.96,177.56M593.56,175.16L598.36,175.16" stroke="#a8a8a8" stroke-width="0.6400000000000001"/>
<rect x="596.17" y="175.37" width="4.8" height="4.8" fill="#fff" stroke="#a8a8a8" stroke-width="0.8"/><path d="M598.57,175.37L598.57,180.17M596.17,177.77L600.97,177.77" stroke="#a8a8a8" stroke-width="0.6400000000000001"/>
<rect x="598.71" y="178.06" width="4.8" height="4.8" fill="#fff" stroke="#a8a8a8" stroke-width="0.8"/><path d="M601.11,178.06L601.11,182.86M598.71,180.46L603.51,180.46" stroke="#a8a8a8" stroke-width="0.6400000000000001"/>
<rect x="601.15" y="180.83" width="4.8" height="4.8" fill="#fff" stroke="#a8a8a8" stroke-width="0.8"/><path d="M603.55,180.83L603.55,185.63M601.15,183.23L605.95,183.23" stroke="#a8a8a8" stroke-width="0.6400000000000001"/>
<rect x="603.60" y="183.60" width="4.8" height="4.8" fill="#fff" stroke="#a8a8a8" stroke-width="0.8"/><path d="M606.00,183.60L606.00,188.40M603.60,186.00L608.40,186.00" stroke="#a8a8a8" stroke-width="0.6400000000000001"/>
<rect x="603.70" y="183.70" width="4.6" height="4.6" fill="#fff" stroke="#a8a8a8" stroke-width="0.8"/><path d="M606.00,183.70L606.00,188.30M603.70,186.00L608.30,186.00" stroke="#a8a8a8" stroke-width="0.6400000000000001"/>
<rect x="605.08" y="185.38" width="4.6" height="4.6" fill="#fff" stroke="#a8a8a8" stroke-width="0.8"/><path d="M607.38,185.38L607.38,189.98M605.08,187.68L609.68,187.68" stroke="#a8a8a8" stroke-width="0.6400000000000001"/>
<rect x="606.46" y="187.05" width="4.6" height="4.6" fill="#fff" stroke="#a8a8a8" stroke-width="0.8"/><path d="M608.76,187.05L608.76,191.65M606.46,189.35L611.06,189.35" stroke="#a8a8a8" stroke-width="0.6400000000000001"/>
<rect x="607.84" y="188.73" width="4.6" height="4.6" fill="#fff" stroke="#a8a8a8" stroke-width="0.8"/><path d="M610.14,188.73L610.14,193.33M607.84,191.03L612.44,191.03" stroke="#a8a8a8" stroke-width="0.6400000000000001"/>
<rect x="609.22" y="190.40" width="4.6" height="4.6" fill="#fff" stroke="#a8a8a8" stroke-width="0.8"/><path d="M611.52,190.40L611.52,195.00M609.22,192.70L613.82,192.70" stroke="#a8a8a8" stroke-width="0.6400000000000001"/>
<rect x="610.60" y="192.08" width="4.6" height="4.6" fill="#fff" stroke="#a8a8a8" stroke-width="0.8"/><path d="M612.90,192.08L612.90,196.68M610.60,194.38L615.20,194.38" stroke="#a8a8a8" stroke-width="0.6400000000000001"/>
<rect x="611.98" y="193.75" width="4.6" height="4.6" fill="#fff" stroke="#a8a8a8" stroke-width="0.8"/><path d="M614.28,193.75L614.28,198.35M611.98,196.05L616.58,196.05" stroke="#a8a8a8" stroke-width="0.6400000000000001"/>
<rect x="613.36" y="195.43" width="4.6" height="4.6" fill="#fff" stroke="#a8a8a8" stroke-width="0.8"/><path d="M615.66,195.43L615.66,200.03M613.36,197.73L617.96,197.73" stroke="#a8a8a8" stroke-width="0.6400000000000001"/>
<rect x="614.74" y="197.10" width="4.6" height="4.6" fill="#fff" stroke="#a8a8a8" stroke-width="0.8"/><path d="M617.04,197.10L617.04,201.70M614.74,199.40L619.34,199.40" stroke="#a8a8a8" stroke-width="0.6400000000000001"/>
<rect x="616.12" y="198.78" width="4.6" height="4.6" fill="#fff" stroke="#a8a8a8" stroke-width="0.8"/><path d="M618.42,198.78L618.42,203.38M616.12,201.08L620.72,201.08" stroke="#a8a8a8" stroke-width="0.6400000000000001"/>
<rect x="617.50" y="200.46" width="4.6" height="4.6" fill="#fff" stroke="#a8a8a8" stroke-width="0.8"/><path d="M619.80,200.46L619.80,205.06M617.50,202.76L622.10,202.76" stroke="#a8a8a8" stroke-width="0.6400000000000001"/>
<rect x="618.79" y="202.20" width="4.6" height="4.6" fill="#fff" stroke="#a8a8a8" stroke-width="0.8"/><path d="M621.09,202.20L621.09,206.80M618.79,204.50L623.39,204.50" stroke="#a8a8a8" stroke-width="0.6400000000000001"/>
<rect x="620.06" y="203.96" width="4.6" height="4.6" fill="#fff" stroke="#a8a8a8" stroke-width="0.8"/><path d="M622.36,203.96L622.36,208.56M620.06,206.26L624.66,206.26" stroke="#a8a8a8" stroke-width="0.6400000000000001"/>
<rect x="621.33" y="205.72" width="4.6" height="4.6" fill="#fff" stroke="#a8a8a8" stroke-width="0.8"/><path d="M623.63,205.72L623.63,210.32M621.33,208.02L625.93,208.02" stroke="#a8a8a8" stroke-width="0.6400000000000001"/>
<rect x="622.60" y="207.48" width="4.6" height="4.6" fill="#fff" stroke="#a8a8a8" stroke-width="0.8"/><path d="M624.90,207.48L624.90,212.08M622.60,209.78L627.20,209.78" stroke="#a8a8a8" stroke-width="0.6400000000000001"/>
<rect x="623.87" y="209.24" width="4.6" height="4.6" fill="#fff" stroke="#a8a8a8" stroke-width="0.8"/><path d="M626.17,209.24L626.17,213.84M623.87,211.54L628.47,211.54" stroke="#a8a8a8" stroke-width="0.6400000000000001"/>
<rect x="625.14" y="211.00" width="4.6" height="4.6" fill="#fff" stroke="#a8a8a8" stroke-width="0.8"/><path d="M627.44,211.00L627.44,215.60M625.14,213.30L629.74,213.30" stroke="#a8a8a8" stroke-width="0.6400000000000001"/>
<rect x="626.41" y="212.76" width="4.6" height="4.6" fill="#fff" stroke="#a8a8a8" stroke-width="0.8"/><path d="M628.71,212.76L628.71,217.36M626.41,215.06L631.01,215.06" stroke="#a8a8a8" stroke-width="0.6400000000000001"/>
<rect x="627.68" y="214.52" width="4.6" height="4.6" fill="#fff" stroke="#a8a8a8" stroke-width="0.8"/><path d="M629.98,214.52L629.98,219.12M627.68,216.82L632.28,216.82" stroke="#a8a8a8" stroke-width="0.6400000000000001"/>
<rect x="628.95" y="216.28" width="4.6" height="4.6" fill="#fff" stroke="#a8a8a8" stroke-width="0.8"/><path d="M631.25,216.28L631.25,220.88M628.95,218.58L633.55,218.58" stroke="#a8a8a8" stroke-width="0.6400000000000001"/>
<rect x="630.22" y="218.04" width="4.6" height="4.6" fill="#fff" stroke="#a8a8a8" stroke-width="0.8"/><path d="M632.52,218.04L632.52,222.64M630.22,220.34L634.82,220.34" stroke="#a8a8a8" stroke-width="0.6400000000000001"/>
<rect x="631.49" y="219.80" width="4.6" height="4.6" fill="#fff" stroke="#a8a8a8" stroke-width="0.8"/><path d="M633.79,219.80L633.79,224.40M631.49,222.10L636.09,222.10" stroke="#a8a8a8" stroke-width="0.6400000000000001"/>
<rect x="632.76" y="221.56" width="4.6" height="4.6" fill="#fff" stroke="#a8a8a8" stroke-width="0.8"/><path d="M635.06,221.56L635.06,226.16M632.76,223.86L637.36,223.86" stroke="#a8a8a8" stroke-width="0.6400000000000001"/>
<rect x="634.03" y="223.32" width="4.6" height="4.6" fill="#fff" stroke="#a8a8a8" stroke-width="0.8"/><path d="M636.33,223.32L636.33,227.92M634.03,225.62L638.63,225.62" stroke="#a8a8a8" stroke-width="0.6400000000000001"/>
<rect x="635.30" y="225.08" width="4.6" height="4.6" fill="#fff" stroke="#a8a8a8" stroke-width="0.8"/><path d="M637.60,225.08L637.60,229.68M635.30,227.38L639.90,227.38" stroke="#a8a8a8" stroke-width="0.6400000000000001"/>
<rect x="636.58" y="226.84" width="4.6" height="4.6" fill="#fff" stroke="#a8a8a8" stroke-width="0.8"/><path d="M638.88,226.84L638.88,231.44M636.58,229.14L641.18,229.14" stroke="#a8a8a8" stroke-width="0.6400000000000001"/>
<rect x="637.85" y="228.60" width="4.6" height="4.6" fill="#fff" stroke="#a8a8a8" stroke-width="0.8"/><path d="M640.15,228.60L640.15,233.20M637.85,230.90L642.45,230.90" stroke="#a8a8a8" stroke-width="0.6400000000000001"/>
<rect x="639.12" y="230.36" width="4.6" height="4.6" fill="#fff" stroke="#a8a8a8" stroke-width="0.8"/><path d="M641.42,230.36L641.42,234.96M639.12,232.66L643.72,232.66" stroke="#a8a8a8" stroke-width="0.6400000000000001"/>
<rect x="640.39" y="232.12" width="4.6" height="4.6" fill="#fff" stroke="#a8a8a8" stroke-width="0.8"/><path d="M642.69,232.12L642.69,236.72M640.39,234.42L644.99,234.42" stroke="#a8a8a8" stroke-width="0.6400000000000001"/>
<rect x="641.66" y="233.88" width="4.6" height="4.6" fill="#fff" stroke="#a8a8a8" stroke-width="0.8"/><path d="M643.96,233.88L643.96,238.48M641.66,236.18L646.26,236.18" stroke="#a8a8a8" stroke-width="0.6400000000000001"/>
<rect x="642.93" y="235.64" width="4.6" height="4.6" fill="#fff" stroke="#a8a8a8" stroke-width="0.8"/><path d="M645.23,235.64L645.23,240.24M642.93,237.94L647.53,237.94" stroke="#a8a8a8" stroke-width="0.6400000000000001"/>
<rect x="644.20" y="237.40" width="4.6" height="4.6" fill="#fff" stroke="#a8a8a8" stroke-width="0.8"/><path d="M646.50,237.40L646.50,242.00M644.20,239.70L648.80,239.70" stroke="#a8a8a8" stroke-width="0.6400000000000001"/>
<path d="M486.20,109.00 C489.55,112.98 500.30,125.88 506.30,132.90 C512.30,139.92 515.75,144.33 522.20,151.10 C528.65,157.87 537.38,166.18 545.00,173.50 C552.62,180.82 561.67,188.92 567.90,195.00 C574.13,201.08 575.93,203.33 582.40,210.00 C588.87,216.67 599.57,227.80 606.70,235.00 C613.83,242.20 618.13,244.45 625.20,253.20 C632.27,261.95 645.12,281.78 649.10,287.50" fill="none" stroke="#808080" stroke-width="2.1" stroke-linejoin="round"/>
<path d="M649.10,287.50 C650.50,291.38 655.02,304.38 657.50,310.80 C659.98,317.22 662.00,320.13 664.00,326.00 C666.00,331.87 668.58,342.67 669.50,346.00" fill="none" stroke="#808080" stroke-width="2.1" stroke-linejoin="round"/>
<circle cx="468.40" cy="82.80" r="2.5" fill="#fff" stroke="#a0a0a0" stroke-width="0.9"/>
<circle cx="470.01" cy="85.18" r="2.5" fill="#fff" stroke="#a0a0a0" stroke-width="0.9"/>
<circle cx="471.63" cy="87.57" r="2.5" fill="#fff" stroke="#a0a0a0" stroke-width="0.9"/>
<circle cx="473.24" cy="89.95" r="2.5" fill="#fff" stroke="#a0a0a0" stroke-width="0.9"/>
<circle cx="474.86" cy="92.34" r="2.5" fill="#fff" stroke="#a0a0a0" stroke-width="0.9"/>
<circle cx="476.47" cy="94.72" r="2.5" fill="#fff" stroke="#a0a0a0" stroke-width="0.9"/>
<circle cx="478.09" cy="97.10" r="2.5" fill="#fff" stroke="#a0a0a0" stroke-width="0.9"/>
<circle cx="479.71" cy="99.48" r="2.5" fill="#fff" stroke="#a0a0a0" stroke-width="0.9"/>
<circle cx="481.34" cy="101.86" r="2.5" fill="#fff" stroke="#a0a0a0" stroke-width="0.9"/>
<circle cx="482.96" cy="104.24" r="2.5" fill="#fff" stroke="#a0a0a0" stroke-width="0.9"/>
<circle cx="484.58" cy="106.62" r="2.5" fill="#fff" stroke="#a0a0a0" stroke-width="0.9"/>
<circle cx="486.20" cy="109.00" r="2.5" fill="#fff" stroke="#a0a0a0" stroke-width="0.9"/>
<path d="M541.70,183.40 C544.02,185.33 550.87,190.73 555.60,195.00 C560.33,199.27 562.70,201.78 570.10,209.00 C577.50,216.22 591.68,230.17 600.00,238.30 C608.32,246.43 611.70,248.30 620.00,257.80 C628.30,267.30 643.33,286.25 649.80,295.30 C656.27,304.35 656.35,306.65 658.80,312.10 C661.25,317.55 662.72,322.35 664.50,328.00 C666.28,333.65 668.67,343.00 669.50,346.00" fill="none" stroke="#808080" stroke-width="2.1" stroke-linejoin="round"/>
<rect x="482.80" y="145.00" width="5.6" height="5.6" fill="#fff" stroke="#a0a0a0" stroke-width="0.9"/>
<rect x="487.90" y="146.70" width="5.6" height="5.6" fill="#fff" stroke="#a0a0a0" stroke-width="0.9"/>
<rect x="494.00" y="148.90" width="5.6" height="5.6" fill="#fff" stroke="#a0a0a0" stroke-width="0.9"/>
<rect x="498.40" y="152.20" width="5.6" height="5.6" fill="#fff" stroke="#a0a0a0" stroke-width="0.9"/>
<rect x="502.90" y="155.00" width="5.6" height="5.6" fill="#fff" stroke="#a0a0a0" stroke-width="0.9"/>
<rect x="506.80" y="157.30" width="5.6" height="5.6" fill="#fff" stroke="#a0a0a0" stroke-width="0.9"/>
<rect x="511.30" y="160.00" width="5.6" height="5.6" fill="#fff" stroke="#a0a0a0" stroke-width="0.9"/>
<rect x="515.20" y="163.40" width="5.6" height="5.6" fill="#fff" stroke="#a0a0a0" stroke-width="0.9"/>
<rect x="519.10" y="166.20" width="5.6" height="5.6" fill="#fff" stroke="#a0a0a0" stroke-width="0.9"/>
<rect x="523.50" y="169.00" width="5.6" height="5.6" fill="#fff" stroke="#a0a0a0" stroke-width="0.9"/>
<rect x="528.00" y="171.70" width="5.6" height="5.6" fill="#fff" stroke="#a0a0a0" stroke-width="0.9"/>
<rect x="532.20" y="174.70" width="5.6" height="5.6" fill="#fff" stroke="#a0a0a0" stroke-width="0.9"/>
<rect x="535.70" y="177.70" width="5.6" height="5.6" fill="#fff" stroke="#a0a0a0" stroke-width="0.9"/>
<rect x="538.90" y="180.60" width="5.6" height="5.6" fill="#fff" stroke="#a0a0a0" stroke-width="0.9"/>
<path d="M625.80,239.70 C626.98,241.25 628.48,242.97 632.90,249.00 C637.32,255.03 647.33,267.12 652.30,275.90 C657.27,284.68 660.17,294.02 662.70,301.70 C665.23,309.38 666.20,314.62 667.50,322.00 C668.80,329.38 670.00,342.00 670.50,346.00" fill="none" stroke="#808080" stroke-width="2.1" stroke-linejoin="round"/>
<path d="M560.70,179.26L564.20,185.32L557.20,185.32Z" fill="#fff" stroke="#a0a0a0" stroke-width="0.9" stroke-linejoin="miter"/>
<path d="M565.44,182.58L568.94,188.64L561.94,188.64Z" fill="#fff" stroke="#a0a0a0" stroke-width="0.9" stroke-linejoin="miter"/>
<path d="M570.18,185.90L573.68,191.96L566.68,191.96Z" fill="#fff" stroke="#a0a0a0" stroke-width="0.9" stroke-linejoin="miter"/>
<path d="M574.92,189.21L578.42,195.27L571.42,195.27Z" fill="#fff" stroke="#a0a0a0" stroke-width="0.9" stroke-linejoin="miter"/>
<path d="M579.62,192.59L583.12,198.65L576.12,198.65Z" fill="#fff" stroke="#a0a0a0" stroke-width="0.9" stroke-linejoin="miter"/>
<path d="M584.23,196.09L587.73,202.15L580.73,202.15Z" fill="#fff" stroke="#a0a0a0" stroke-width="0.9" stroke-linejoin="miter"/>
<path d="M588.84,199.58L592.34,205.65L585.34,205.65Z" fill="#fff" stroke="#a0a0a0" stroke-width="0.9" stroke-linejoin="miter"/>
<path d="M593.45,203.08L596.95,209.14L589.95,209.14Z" fill="#fff" stroke="#a0a0a0" stroke-width="0.9" stroke-linejoin="miter"/>
<path d="M597.88,206.79L601.38,212.86L594.38,212.86Z" fill="#fff" stroke="#a0a0a0" stroke-width="0.9" stroke-linejoin="miter"/>
<path d="M602.12,210.73L605.62,216.80L598.62,216.80Z" fill="#fff" stroke="#a0a0a0" stroke-width="0.9" stroke-linejoin="miter"/>
<path d="M606.35,214.67L609.85,220.73L602.85,220.73Z" fill="#fff" stroke="#a0a0a0" stroke-width="0.9" stroke-linejoin="miter"/>
<path d="M610.53,218.67L614.03,224.73L607.03,224.73Z" fill="#fff" stroke="#a0a0a0" stroke-width="0.9" stroke-linejoin="miter"/>
<path d="M614.35,223.02L617.85,229.08L610.85,229.08Z" fill="#fff" stroke="#a0a0a0" stroke-width="0.9" stroke-linejoin="miter"/>
<path d="M618.17,227.37L621.67,233.43L614.67,233.43Z" fill="#fff" stroke="#a0a0a0" stroke-width="0.9" stroke-linejoin="miter"/>
<path d="M621.98,231.71L625.48,237.78L618.48,237.78Z" fill="#fff" stroke="#a0a0a0" stroke-width="0.9" stroke-linejoin="miter"/>
<path d="M625.80,236.06L629.30,242.12L622.30,242.12Z" fill="#fff" stroke="#a0a0a0" stroke-width="0.9" stroke-linejoin="miter"/>
<path d="M531.00,205.00 C531.77,205.83 528.43,203.32 535.60,210.00 C542.77,216.68 564.93,236.60 574.00,245.10 C583.07,253.60 585.67,256.85 590.00,261.00 C594.33,265.15 593.82,263.98 600.00,270.00 C606.18,276.02 619.10,288.60 627.10,297.10 C635.10,305.60 641.58,312.85 648.00,321.00 C654.42,329.15 662.67,341.83 665.60,346.00" fill="none" stroke="#808080" stroke-width="2.0" stroke-dasharray="2.6,2.6" stroke-linejoin="round"/>
<circle cx="461.10" cy="153.40" r="2.5" fill="#fff" stroke="#a0a0a0" stroke-width="0.9"/><path d="M459.85,152.15L462.35,154.65M462.35,152.15L459.85,154.65" stroke="#a0a0a0" stroke-width="0.7200000000000001"/>
<circle cx="463.13" cy="154.65" r="2.5" fill="#fff" stroke="#a0a0a0" stroke-width="0.9"/><path d="M461.88,153.40L464.38,155.90M464.38,153.40L461.88,155.90" stroke="#a0a0a0" stroke-width="0.7200000000000001"/>
<circle cx="465.16" cy="155.90" r="2.5" fill="#fff" stroke="#a0a0a0" stroke-width="0.9"/><path d="M463.91,154.65L466.41,157.15M466.41,154.65L463.91,157.15" stroke="#a0a0a0" stroke-width="0.7200000000000001"/>
<circle cx="467.19" cy="157.15" r="2.5" fill="#fff" stroke="#a0a0a0" stroke-width="0.9"/><path d="M465.94,155.90L468.44,158.40M468.44,155.90L465.94,158.40" stroke="#a0a0a0" stroke-width="0.7200000000000001"/>
<circle cx="469.22" cy="158.40" r="2.5" fill="#fff" stroke="#a0a0a0" stroke-width="0.9"/><path d="M467.97,157.15L470.47,159.65M470.47,157.15L467.97,159.65" stroke="#a0a0a0" stroke-width="0.7200000000000001"/>
<circle cx="471.25" cy="159.65" r="2.5" fill="#fff" stroke="#a0a0a0" stroke-width="0.9"/><path d="M470.00,158.40L472.50,160.90M472.50,158.40L470.00,160.90" stroke="#a0a0a0" stroke-width="0.7200000000000001"/>
<circle cx="473.28" cy="160.90" r="2.5" fill="#fff" stroke="#a0a0a0" stroke-width="0.9"/><path d="M472.03,159.65L474.53,162.15M474.53,159.65L472.03,162.15" stroke="#a0a0a0" stroke-width="0.7200000000000001"/>
<circle cx="475.31" cy="162.15" r="2.5" fill="#fff" stroke="#a0a0a0" stroke-width="0.9"/><path d="M474.06,160.90L476.56,163.40M476.56,160.90L474.06,163.40" stroke="#a0a0a0" stroke-width="0.7200000000000001"/>
<circle cx="477.34" cy="163.40" r="2.5" fill="#fff" stroke="#a0a0a0" stroke-width="0.9"/><path d="M476.09,162.15L478.59,164.65M478.59,162.15L476.09,164.65" stroke="#a0a0a0" stroke-width="0.7200000000000001"/>
<circle cx="479.37" cy="164.65" r="2.5" fill="#fff" stroke="#a0a0a0" stroke-width="0.9"/><path d="M478.12,163.40L480.62,165.90M480.62,163.40L478.12,165.90" stroke="#a0a0a0" stroke-width="0.7200000000000001"/>
<circle cx="481.41" cy="165.90" r="2.5" fill="#fff" stroke="#a0a0a0" stroke-width="0.9"/><path d="M480.16,164.65L482.66,167.15M482.66,164.65L480.16,167.15" stroke="#a0a0a0" stroke-width="0.7200000000000001"/>
<circle cx="483.44" cy="167.15" r="2.5" fill="#fff" stroke="#a0a0a0" stroke-width="0.9"/><path d="M482.19,165.90L484.69,168.40M484.69,165.90L482.19,168.40" stroke="#a0a0a0" stroke-width="0.7200000000000001"/>
<circle cx="485.47" cy="168.40" r="2.5" fill="#fff" stroke="#a0a0a0" stroke-width="0.9"/><path d="M484.22,167.15L486.72,169.65M486.72,167.15L484.22,169.65" stroke="#a0a0a0" stroke-width="0.7200000000000001"/>
<circle cx="487.50" cy="169.65" r="2.5" fill="#fff" stroke="#a0a0a0" stroke-width="0.9"/><path d="M486.25,168.40L488.75,170.90M488.75,168.40L486.25,170.90" stroke="#a0a0a0" stroke-width="0.7200000000000001"/>
<circle cx="489.53" cy="170.90" r="2.5" fill="#fff" stroke="#a0a0a0" stroke-width="0.9"/><path d="M488.28,169.65L490.78,172.15M490.78,169.65L488.28,172.15" stroke="#a0a0a0" stroke-width="0.7200000000000001"/>
<circle cx="491.56" cy="172.15" r="2.5" fill="#fff" stroke="#a0a0a0" stroke-width="0.9"/><path d="M490.31,170.90L492.81,173.40M492.81,170.90L490.31,173.40" stroke="#a0a0a0" stroke-width="0.7200000000000001"/>
<circle cx="493.49" cy="173.55" r="2.5" fill="#fff" stroke="#a0a0a0" stroke-width="0.9"/><path d="M492.24,172.30L494.74,174.80M494.74,172.30L492.24,174.80" stroke="#a0a0a0" stroke-width="0.7200000000000001"/>
<circle cx="495.41" cy="174.97" r="2.5" fill="#fff" stroke="#a0a0a0" stroke-width="0.9"/><path d="M494.16,173.72L496.66,176.22M496.66,173.72L494.16,176.22" stroke="#a0a0a0" stroke-width="0.7200000000000001"/>
<circle cx="497.32" cy="176.38" r="2.5" fill="#fff" stroke="#a0a0a0" stroke-width="0.9"/><path d="M496.07,175.13L498.57,177.63M498.57,175.13L496.07,177.63" stroke="#a0a0a0" stroke-width="0.7200000000000001"/>
<circle cx="499.24" cy="177.80" r="2.5" fill="#fff" stroke="#a0a0a0" stroke-width="0.9"/><path d="M497.99,176.55L500.49,179.05M500.49,176.55L497.99,179.05" stroke="#a0a0a0" stroke-width="0.7200000000000001"/>
<circle cx="501.16" cy="179.22" r="2.5" fill="#fff" stroke="#a0a0a0" stroke-width="0.9"/><path d="M499.91,177.97L502.41,180.47M502.41,177.97L499.91,180.47" stroke="#a0a0a0" stroke-width="0.7200000000000001"/>
<circle cx="503.07" cy="180.64" r="2.5" fill="#fff" stroke="#a0a0a0" stroke-width="0.9"/><path d="M501.82,179.39L504.32,181.89M504.32,179.39L501.82,181.89" stroke="#a0a0a0" stroke-width="0.7200000000000001"/>
<circle cx="504.99" cy="182.06" r="2.5" fill="#fff" stroke="#a0a0a0" stroke-width="0.9"/><path d="M503.74,180.81L506.24,183.31M506.24,180.81L503.74,183.31" stroke="#a0a0a0" stroke-width="0.7200000000000001"/>
<circle cx="506.91" cy="183.47" r="2.5" fill="#fff" stroke="#a0a0a0" stroke-width="0.9"/><path d="M505.66,182.22L508.16,184.72M508.16,182.22L505.66,184.72" stroke="#a0a0a0" stroke-width="0.7200000000000001"/>
<circle cx="508.83" cy="184.89" r="2.5" fill="#fff" stroke="#a0a0a0" stroke-width="0.9"/><path d="M507.58,183.64L510.08,186.14M510.08,183.64L507.58,186.14" stroke="#a0a0a0" stroke-width="0.7200000000000001"/>
<circle cx="510.74" cy="186.31" r="2.5" fill="#fff" stroke="#a0a0a0" stroke-width="0.9"/><path d="M509.49,185.06L511.99,187.56M511.99,185.06L509.49,187.56" stroke="#a0a0a0" stroke-width="0.7200000000000001"/>
<circle cx="512.50" cy="187.92" r="2.5" fill="#fff" stroke="#a0a0a0" stroke-width="0.9"/><path d="M511.25,186.67L513.75,189.17M513.75,186.67L511.25,189.17" stroke="#a0a0a0" stroke-width="0.7200000000000001"/>
<circle cx="514.22" cy="189.57" r="2.5" fill="#fff" stroke="#a0a0a0" stroke-width="0.9"/><path d="M512.97,188.32L515.47,190.82M515.47,188.32L512.97,190.82" stroke="#a0a0a0" stroke-width="0.7200000000000001"/>
<circle cx="515.95" cy="191.21" r="2.5" fill="#fff" stroke="#a0a0a0" stroke-width="0.9"/><path d="M514.70,189.96L517.20,192.46M517.20,189.96L514.70,192.46" stroke="#a0a0a0" stroke-width="0.7200000000000001"/>
<circle cx="517.68" cy="192.85" r="2.5" fill="#fff" stroke="#a0a0a0" stroke-width="0.9"/><path d="M516.43,191.60L518.93,194.10M518.93,191.60L516.43,194.10" stroke="#a0a0a0" stroke-width="0.7200000000000001"/>
<circle cx="519.41" cy="194.50" r="2.5" fill="#fff" stroke="#a0a0a0" stroke-width="0.9"/><path d="M518.16,193.25L520.66,195.75M520.66,193.25L518.16,195.75" stroke="#a0a0a0" stroke-width="0.7200000000000001"/>
<circle cx="521.13" cy="196.14" r="2.5" fill="#fff" stroke="#a0a0a0" stroke-width="0.9"/><path d="M519.88,194.89L522.38,197.39M522.38,194.89L519.88,197.39" stroke="#a0a0a0" stroke-width="0.7200000000000001"/>
<circle cx="522.86" cy="197.78" r="2.5" fill="#fff" stroke="#a0a0a0" stroke-width="0.9"/><path d="M521.61,196.53L524.11,199.03M524.11,196.53L521.61,199.03" stroke="#a0a0a0" stroke-width="0.7200000000000001"/>
<circle cx="524.59" cy="199.43" r="2.5" fill="#fff" stroke="#a0a0a0" stroke-width="0.9"/><path d="M523.34,198.18L525.84,200.68M525.84,198.18L523.34,200.68" stroke="#a0a0a0" stroke-width="0.7200000000000001"/>
<circle cx="526.32" cy="201.07" r="2.5" fill="#fff" stroke="#a0a0a0" stroke-width="0.9"/><path d="M525.07,199.82L527.57,202.32M527.57,199.82L525.07,202.32" stroke="#a0a0a0" stroke-width="0.7200000000000001"/>
<circle cx="528.04" cy="202.71" r="2.5" fill="#fff" stroke="#a0a0a0" stroke-width="0.9"/><path d="M526.79,201.46L529.29,203.96M529.29,201.46L526.79,203.96" stroke="#a0a0a0" stroke-width="0.7200000000000001"/>
<circle cx="529.77" cy="204.36" r="2.5" fill="#fff" stroke="#a0a0a0" stroke-width="0.9"/><path d="M528.52,203.11L531.02,205.61M531.02,203.11L528.52,205.61" stroke="#a0a0a0" stroke-width="0.7200000000000001"/>
<circle cx="531.50" cy="206.00" r="2.5" fill="#fff" stroke="#a0a0a0" stroke-width="0.9"/><path d="M530.25,204.75L532.75,207.25M532.75,204.75L530.25,207.25" stroke="#a0a0a0" stroke-width="0.7200000000000001"/>
<path d="M582.40,230.70 C586.63,235.13 599.87,248.42 607.80,257.30 C615.73,266.18 622.97,274.72 630.00,284.00 C637.03,293.28 643.35,302.67 650.00,313.00 C656.65,323.33 666.58,340.50 669.90,346.00" fill="none" stroke="#808080" stroke-width="2.0" stroke-dasharray="2.6,2.6" stroke-linejoin="round"/>
<rect x="507.60" y="166.40" width="5.2" height="5.2" fill="#fff" stroke="#a0a0a0" stroke-width="0.9"/><path d="M507.60,166.40L512.80,171.60M512.80,166.40L507.60,171.60" stroke="#a0a0a0" stroke-width="0.7200000000000001"/>
<rect x="509.64" y="167.85" width="5.2" height="5.2" fill="#fff" stroke="#a0a0a0" stroke-width="0.9"/><path d="M509.64,167.85L514.84,173.05M514.84,167.85L509.64,173.05" stroke="#a0a0a0" stroke-width="0.7200000000000001"/>
<rect x="511.67" y="169.31" width="5.2" height="5.2" fill="#fff" stroke="#a0a0a0" stroke-width="0.9"/><path d="M511.67,169.31L516.87,174.51M516.87,169.31L511.67,174.51" stroke="#a0a0a0" stroke-width="0.7200000000000001"/>
<rect x="513.71" y="170.76" width="5.2" height="5.2" fill="#fff" stroke="#a0a0a0" stroke-width="0.9"/><path d="M513.71,170.76L518.91,175.96M518.91,170.76L513.71,175.96" stroke="#a0a0a0" stroke-width="0.7200000000000001"/>
<rect x="515.74" y="172.22" width="5.2" height="5.2" fill="#fff" stroke="#a0a0a0" stroke-width="0.9"/><path d="M515.74,172.22L520.94,177.42M520.94,172.22L515.74,177.42" stroke="#a0a0a0" stroke-width="0.7200000000000001"/>
<rect x="517.75" y="173.71" width="5.2" height="5.2" fill="#fff" stroke="#a0a0a0" stroke-width="0.9"/><path d="M517.75,173.71L522.95,178.91M522.95,173.71L517.75,178.91" stroke="#a0a0a0" stroke-width="0.7200000000000001"/>
<rect x="519.62" y="175.36" width="5.2" height="5.2" fill="#fff" stroke="#a0a0a0" stroke-width="0.9"/><path d="M519.62,175.36L524.82,180.56M524.82,175.36L519.62,180.56" stroke="#a0a0a0" stroke-width="0.7200000000000001"/>
<rect x="521.49" y="177.02" width="5.2" height="5.2" fill="#fff" stroke="#a0a0a0" stroke-width="0.9"/><path d="M521.49,177.02L526.69,182.22M526.69,177.02L521.49,182.22" stroke="#a0a0a0" stroke-width="0.7200000000000001"/>
<rect x="523.37" y="178.68" width="5.2" height="5.2" fill="#fff" stroke="#a0a0a0" stroke-width="0.9"/><path d="M523.37,178.68L528.57,183.88M528.57,178.68L523.37,183.88" stroke="#a0a0a0" stroke-width="0.7200000000000001"/>
<rect x="525.24" y="180.34" width="5.2" height="5.2" fill="#fff" stroke="#a0a0a0" stroke-width="0.9"/><path d="M525.24,180.34L530.44,185.54M530.44,180.34L525.24,185.54" stroke="#a0a0a0" stroke-width="0.7200000000000001"/>
<rect x="527.11" y="181.99" width="5.2" height="5.2" fill="#fff" stroke="#a0a0a0" stroke-width="0.9"/><path d="M527.11,181.99L532.31,187.19M532.31,181.99L527.11,187.19" stroke="#a0a0a0" stroke-width="0.7200000000000001"/>
<rect x="528.99" y="183.65" width="5.2" height="5.2" fill="#fff" stroke="#a0a0a0" stroke-width="0.9"/><path d="M528.99,183.65L534.19,188.85M534.19,183.65L528.99,188.85" stroke="#a0a0a0" stroke-width="0.7200000000000001"/>
<rect x="530.87" y="185.29" width="5.2" height="5.2" fill="#fff" stroke="#a0a0a0" stroke-width="0.9"/><path d="M530.87,185.29L536.07,190.49M536.07,185.29L530.87,190.49" stroke="#a0a0a0" stroke-width="0.7200000000000001"/>
<rect x="532.80" y="186.88" width="5.2" height="5.2" fill="#fff" stroke="#a0a0a0" stroke-width="0.9"/><path d="M532.80,186.88L538.00,192.08M538.00,186.88L532.80,192.08" stroke="#a0a0a0" stroke-width="0.7200000000000001"/>
<rect x="534.73" y="188.47" width="5.2" height="5.2" fill="#fff" stroke="#a0a0a0" stroke-width="0.9"/><path d="M534.73,188.47L539.93,193.67M539.93,188.47L534.73,193.67" stroke="#a0a0a0" stroke-width="0.7200000000000001"/>
<rect x="536.66" y="190.07" width="5.2" height="5.2" fill="#fff" stroke="#a0a0a0" stroke-width="0.9"/><path d="M536.66,190.07L541.86,195.27M541.86,190.07L536.66,195.27" stroke="#a0a0a0" stroke-width="0.7200000000000001"/>
<rect x="538.59" y="191.66" width="5.2" height="5.2" fill="#fff" stroke="#a0a0a0" stroke-width="0.9"/><path d="M538.59,191.66L543.79,196.86M543.79,191.66L538.59,196.86" stroke="#a0a0a0" stroke-width="0.7200000000000001"/>
<rect x="540.52" y="193.25" width="5.2" height="5.2" fill="#fff" stroke="#a0a0a0" stroke-width="0.9"/><path d="M540.52,193.25L545.72,198.45M545.72,193.25L540.52,198.45" stroke="#a0a0a0" stroke-width="0.7200000000000001"/>
<rect x="542.45" y="194.84" width="5.2" height="5.2" fill="#fff" stroke="#a0a0a0" stroke-width="0.9"/><path d="M542.45,194.84L547.65,200.04M547.65,194.84L542.45,200.04" stroke="#a0a0a0" stroke-width="0.7200000000000001"/>
<rect x="544.38" y="196.44" width="5.2" height="5.2" fill="#fff" stroke="#a0a0a0" stroke-width="0.9"/><path d="M544.38,196.44L549.58,201.64M549.58,196.44L544.38,201.64" stroke="#a0a0a0" stroke-width="0.7200000000000001"/>
<rect x="546.29" y="198.05" width="5.2" height="5.2" fill="#fff" stroke="#a0a0a0" stroke-width="0.9"/><path d="M546.29,198.05L551.49,203.25M551.49,198.05L546.29,203.25" stroke="#a0a0a0" stroke-width="0.7200000000000001"/>
<rect x="548.20" y="199.67" width="5.2" height="5.2" fill="#fff" stroke="#a0a0a0" stroke-width="0.9"/><path d="M548.20,199.67L553.40,204.87M553.40,199.67L548.20,204.87" stroke="#a0a0a0" stroke-width="0.7200000000000001"/>
<rect x="550.11" y="201.28" width="5.2" height="5.2" fill="#fff" stroke="#a0a0a0" stroke-width="0.9"/><path d="M550.11,201.28L555.31,206.48M555.31,201.28L550.11,206.48" stroke="#a0a0a0" stroke-width="0.7200000000000001"/>
<rect x="552.02" y="202.90" width="5.2" height="5.2" fill="#fff" stroke="#a0a0a0" stroke-width="0.9"/><path d="M552.02,202.90L557.22,208.10M557.22,202.90L552.02,208.10" stroke="#a0a0a0" stroke-width="0.7200000000000001"/>
<rect x="553.93" y="204.51" width="5.2" height="5.2" fill="#fff" stroke="#a0a0a0" stroke-width="0.9"/><path d="M553.93,204.51L559.13,209.71M559.13,204.51L553.93,209.71" stroke="#a0a0a0" stroke-width="0.7200000000000001"/>
<rect x="555.84" y="206.13" width="5.2" height="5.2" fill="#fff" stroke="#a0a0a0" stroke-width="0.9"/><path d="M555.84,206.13L561.04,211.33M561.04,206.13L555.84,211.33" stroke="#a0a0a0" stroke-width="0.7200000000000001"/>
<rect x="557.74" y="207.75" width="5.2" height="5.2" fill="#fff" stroke="#a0a0a0" stroke-width="0.9"/><path d="M557.74,207.75L562.94,212.95M562.94,207.75L557.74,212.95" stroke="#a0a0a0" stroke-width="0.7200000000000001"/>
<rect x="559.65" y="209.36" width="5.2" height="5.2" fill="#fff" stroke="#a0a0a0" stroke-width="0.9"/><path d="M559.65,209.36L564.85,214.56M564.85,209.36L559.65,214.56" stroke="#a0a0a0" stroke-width="0.7200000000000001"/>
<rect x="561.49" y="211.06" width="5.2" height="5.2" fill="#fff" stroke="#a0a0a0" stroke-width="0.9"/><path d="M561.49,211.06L566.69,216.26M566.69,211.06L561.49,216.26" stroke="#a0a0a0" stroke-width="0.7200000000000001"/>
<rect x="563.32" y="212.77" width="5.2" height="5.2" fill="#fff" stroke="#a0a0a0" stroke-width="0.9"/><path d="M563.32,212.77L568.52,217.97M568.52,212.77L563.32,217.97" stroke="#a0a0a0" stroke-width="0.7200000000000001"/>
<rect x="565.15" y="214.47" width="5.2" height="5.2" fill="#fff" stroke="#a0a0a0" stroke-width="0.9"/><path d="M565.15,214.47L570.35,219.67M570.35,214.47L565.15,219.67" stroke="#a0a0a0" stroke-width="0.7200000000000001"/>
<rect x="566.98" y="216.17" width="5.2" height="5.2" fill="#fff" stroke="#a0a0a0" stroke-width="0.9"/><path d="M566.98,216.17L572.18,221.37M572.18,216.17L566.98,221.37" stroke="#a0a0a0" stroke-width="0.7200000000000001"/>
<rect x="568.81" y="217.88" width="5.2" height="5.2" fill="#fff" stroke="#a0a0a0" stroke-width="0.9"/><path d="M568.81,217.88L574.01,223.08M574.01,217.88L568.81,223.08" stroke="#a0a0a0" stroke-width="0.7200000000000001"/>
<rect x="570.64" y="219.58" width="5.2" height="5.2" fill="#fff" stroke="#a0a0a0" stroke-width="0.9"/><path d="M570.64,219.58L575.84,224.78M575.84,219.58L570.64,224.78" stroke="#a0a0a0" stroke-width="0.7200000000000001"/>
<rect x="572.47" y="221.29" width="5.2" height="5.2" fill="#fff" stroke="#a0a0a0" stroke-width="0.9"/><path d="M572.47,221.29L577.67,226.49M577.67,221.29L572.47,226.49" stroke="#a0a0a0" stroke-width="0.7200000000000001"/>
<rect x="574.31" y="222.99" width="5.2" height="5.2" fill="#fff" stroke="#a0a0a0" stroke-width="0.9"/><path d="M574.31,222.99L579.51,228.19M579.51,222.99L574.31,228.19" stroke="#a0a0a0" stroke-width="0.7200000000000001"/>
<rect x="576.14" y="224.69" width="5.2" height="5.2" fill="#fff" stroke="#a0a0a0" stroke-width="0.9"/><path d="M576.14,224.69L581.34,229.89M581.34,224.69L576.14,229.89" stroke="#a0a0a0" stroke-width="0.7200000000000001"/>
<rect x="577.97" y="226.40" width="5.2" height="5.2" fill="#fff" stroke="#a0a0a0" stroke-width="0.9"/><path d="M577.97,226.40L583.17,231.60M583.17,226.40L577.97,231.60" stroke="#a0a0a0" stroke-width="0.7200000000000001"/>
<rect x="579.80" y="228.10" width="5.2" height="5.2" fill="#fff" stroke="#a0a0a0" stroke-width="0.9"/><path d="M579.80,228.10L585.00,233.30M585.00,228.10L579.80,233.30" stroke="#a0a0a0" stroke-width="0.7200000000000001"/>
<path d="M550.00,205.00 L582.00,230.00" fill="none" stroke="#b8b8b8" stroke-width="4" stroke-linejoin="round"/>
<line x1="550.60" y1="126.70" x2="550.60" y2="147.10" stroke="#8a8aff" stroke-width="1.1"/>
<line x1="541.20" y1="136.00" x2="541.20" y2="158.80" stroke="#8a8aff" stroke-width="1.1"/>
<line x1="495.00" y1="153.00" x2="495.00" y2="162.70" stroke="#8a8aff" stroke-width="1.1"/>
<line x1="545.10" y1="164.00" x2="545.10" y2="173.50" stroke="#8a8aff" stroke-width="1.1"/>
<line x1="526.20" y1="181.00" x2="526.20" y2="192.00" stroke="#8a8aff" stroke-width="1.1"/>
<line x1="475.50" y1="179.30" x2="475.50" y2="203.70" stroke="#8a8aff" stroke-width="1.1"/>
<line x1="543.60" y1="191.00" x2="543.60" y2="207.60" stroke="#8a8aff" stroke-width="1.1"/>
<line x1="533.30" y1="206.70" x2="533.30" y2="239.60" stroke="#9ae8ee" stroke-width="1.1"/>
<line x1="553.20" y1="207.30" x2="553.20" y2="227.30" stroke="#9ae8ee" stroke-width="1.1"/>
<line x1="574.60" y1="207.30" x2="574.60" y2="228.40" stroke="#9ae8ee" stroke-width="1.1"/>
<line x1="563.80" y1="218.40" x2="563.80" y2="231.80" stroke="#9ae8ee" stroke-width="1.1"/>
<line x1="591.80" y1="231.80" x2="591.80" y2="255.00" stroke="#9ae8ee" stroke-width="1.1"/>
<line x1="599.10" y1="231.00" x2="599.10" y2="245.00" stroke="#9ae8ee" stroke-width="1.1"/>
<line x1="622.30" y1="262.00" x2="622.30" y2="272.00" stroke="#9ae8ee" stroke-width="1.1"/>
<circle cx="533.30" cy="219.00" r="3.5" fill="#10cccc" stroke="#0a2424" stroke-width="0.95"/>
<circle cx="534.50" cy="196.80" r="3.5" fill="#10cccc" stroke="#0a2424" stroke-width="0.95"/>
<circle cx="564.20" cy="204.40" r="3.5" fill="#10cccc" stroke="#0a2424" stroke-width="0.95"/>
<circle cx="553.20" cy="215.60" r="3.5" fill="#10cccc" stroke="#0a2424" stroke-width="0.95"/>
<circle cx="574.60" cy="216.20" r="3.5" fill="#10cccc" stroke="#0a2424" stroke-width="0.95"/>
<circle cx="563.80" cy="224.20" r="3.5" fill="#10cccc" stroke="#0a2424" stroke-width="0.95"/>
<circle cx="578.50" cy="222.90" r="3.5" fill="#10cccc" stroke="#0a2424" stroke-width="0.95"/>
<circle cx="590.70" cy="221.70" r="3.5" fill="#10cccc" stroke="#0a2424" stroke-width="0.95"/>
<circle cx="572.10" cy="233.40" r="3.5" fill="#10cccc" stroke="#0a2424" stroke-width="0.95"/>
<circle cx="579.00" cy="237.60" r="3.5" fill="#10cccc" stroke="#0a2424" stroke-width="0.95"/>
<circle cx="578.10" cy="246.00" r="3.5" fill="#10cccc" stroke="#0a2424" stroke-width="0.95"/>
<circle cx="586.30" cy="243.10" r="3.5" fill="#10cccc" stroke="#0a2424" stroke-width="0.95"/>
<circle cx="591.80" cy="241.60" r="3.5" fill="#10cccc" stroke="#0a2424" stroke-width="0.95"/>
<circle cx="599.10" cy="235.10" r="3.5" fill="#10cccc" stroke="#0a2424" stroke-width="0.95"/>
<circle cx="598.50" cy="249.60" r="3.5" fill="#10cccc" stroke="#0a2424" stroke-width="0.95"/>
<circle cx="604.70" cy="253.00" r="3.5" fill="#10cccc" stroke="#0a2424" stroke-width="0.95"/>
<circle cx="597.80" cy="247.80" r="3.5" fill="#10cccc" stroke="#0a2424" stroke-width="0.95"/>
<circle cx="606.90" cy="202.20" r="3.5" fill="#10cccc" stroke="#0a2424" stroke-width="0.95"/>
<circle cx="603.20" cy="188.00" r="3.5" fill="#10cccc" stroke="#0a2424" stroke-width="0.95"/>
<circle cx="622.30" cy="271.20" r="3.5" fill="#10cccc" stroke="#0a2424" stroke-width="0.95"/>
<circle cx="619.50" cy="274.00" r="3.5" fill="#10cccc" stroke="#0a2424" stroke-width="0.95"/>
<circle cx="622.30" cy="276.80" r="3.5" fill="#10cccc" stroke="#0a2424" stroke-width="0.95"/>
<circle cx="624.50" cy="281.80" r="3.5" fill="#10cccc" stroke="#0a2424" stroke-width="0.95"/>
<rect x="502.50" y="132.20" width="7.2" height="7.2" fill="#0000f0" stroke="#101030" stroke-width="0.9"/>
<rect x="547.00" y="131.40" width="7.2" height="7.2" fill="#0000f0" stroke="#101030" stroke-width="0.9"/>
<rect x="537.60" y="142.20" width="7.2" height="7.2" fill="#0000f0" stroke="#101030" stroke-width="0.9"/>
<rect x="552.80" y="150.00" width="7.2" height="7.2" fill="#0000f0" stroke="#101030" stroke-width="0.9"/>
<rect x="491.40" y="153.70" width="7.2" height="7.2" fill="#0000f0" stroke="#101030" stroke-width="0.9"/>
<rect x="544.50" y="155.80" width="7.2" height="7.2" fill="#0000f0" stroke="#101030" stroke-width="0.9"/>
<rect x="541.50" y="164.60" width="7.2" height="7.2" fill="#0000f0" stroke="#101030" stroke-width="0.9"/>
<rect x="522.60" y="181.60" width="7.2" height="7.2" fill="#0000f0" stroke="#101030" stroke-width="0.9"/>
<rect x="471.90" y="185.50" width="7.2" height="7.2" fill="#0000f0" stroke="#101030" stroke-width="0.9"/>
<rect x="540.00" y="193.80" width="7.2" height="7.2" fill="#0000f0" stroke="#101030" stroke-width="0.9"/>
<path d="M495.00,174.10 L499.37,177.28 L497.70,182.42 L492.30,182.42 L490.63,177.28Z" fill="#ffa500" stroke="#3a2a00" stroke-width="0.9"/>
<path d="M495.00,193.60 L499.37,196.78 L497.70,201.92 L492.30,201.92 L490.63,196.78Z" fill="#ffa500" stroke="#3a2a00" stroke-width="0.9"/>
<path d="M514.00,200.80 L518.37,203.98 L516.70,209.12 L511.30,209.12 L509.63,203.98Z" fill="#ffa500" stroke="#3a2a00" stroke-width="0.9"/>
</g>
<rect x="71" y="68.7" width="272.30" height="272.50" fill="none" stroke="#1a1a1a" stroke-width="1.75"/>
<line x1="71.00" y1="320.69" x2="75.50" y2="320.69" stroke="#1a1a1a" stroke-width="1.5" />
<line x1="343.30" y1="320.69" x2="338.80" y2="320.69" stroke="#1a1a1a" stroke-width="1.5" />
<line x1="71.00" y1="308.70" x2="75.50" y2="308.70" stroke="#1a1a1a" stroke-width="1.5" />
<line x1="343.30" y1="308.70" x2="338.80" y2="308.70" stroke="#1a1a1a" stroke-width="1.5" />
<line x1="71.00" y1="300.18" x2="75.50" y2="300.18" stroke="#1a1a1a" stroke-width="1.5" />
<line x1="343.30" y1="300.18" x2="338.80" y2="300.18" stroke="#1a1a1a" stroke-width="1.5" />
<line x1="71.00" y1="293.58" x2="75.50" y2="293.58" stroke="#1a1a1a" stroke-width="1.5" />
<line x1="343.30" y1="293.58" x2="338.80" y2="293.58" stroke="#1a1a1a" stroke-width="1.5" />
<line x1="71.00" y1="288.19" x2="75.50" y2="288.19" stroke="#1a1a1a" stroke-width="1.5" />
<line x1="343.30" y1="288.19" x2="338.80" y2="288.19" stroke="#1a1a1a" stroke-width="1.5" />
<line x1="71.00" y1="283.63" x2="75.50" y2="283.63" stroke="#1a1a1a" stroke-width="1.5" />
<line x1="343.30" y1="283.63" x2="338.80" y2="283.63" stroke="#1a1a1a" stroke-width="1.5" />
<line x1="71.00" y1="279.68" x2="75.50" y2="279.68" stroke="#1a1a1a" stroke-width="1.5" />
<line x1="343.30" y1="279.68" x2="338.80" y2="279.68" stroke="#1a1a1a" stroke-width="1.5" />
<line x1="71.00" y1="276.19" x2="75.50" y2="276.19" stroke="#1a1a1a" stroke-width="1.5" />
<line x1="343.30" y1="276.19" x2="338.80" y2="276.19" stroke="#1a1a1a" stroke-width="1.5" />
<line x1="71.00" y1="273.07" x2="80.50" y2="273.07" stroke="#1a1a1a" stroke-width="1.5" />
<line x1="343.30" y1="273.07" x2="333.80" y2="273.07" stroke="#1a1a1a" stroke-width="1.5" />
<line x1="71.00" y1="252.57" x2="75.50" y2="252.57" stroke="#1a1a1a" stroke-width="1.5" />
<line x1="343.30" y1="252.57" x2="338.80" y2="252.57" stroke="#1a1a1a" stroke-width="1.5" />
<line x1="71.00" y1="240.57" x2="75.50" y2="240.57" stroke="#1a1a1a" stroke-width="1.5" />
<line x1="343.30" y1="240.57" x2="338.80" y2="240.57" stroke="#1a1a1a" stroke-width="1.5" />
<line x1="71.00" y1="232.06" x2="75.50" y2="232.06" stroke="#1a1a1a" stroke-width="1.5" />
<line x1="343.30" y1="232.06" x2="338.80" y2="232.06" stroke="#1a1a1a" stroke-width="1.5" />
<line x1="71.00" y1="225.46" x2="75.50" y2="225.46" stroke="#1a1a1a" stroke-width="1.5" />
<line x1="343.30" y1="225.46" x2="338.80" y2="225.46" stroke="#1a1a1a" stroke-width="1.5" />
<line x1="71.00" y1="220.06" x2="75.50" y2="220.06" stroke="#1a1a1a" stroke-width="1.5" />
<line x1="343.30" y1="220.06" x2="338.80" y2="220.06" stroke="#1a1a1a" stroke-width="1.5" />
<line x1="71.00" y1="215.50" x2="75.50" y2="215.50" stroke="#1a1a1a" stroke-width="1.5" />
<line x1="343.30" y1="215.50" x2="338.80" y2="215.50" stroke="#1a1a1a" stroke-width="1.5" />
<line x1="71.00" y1="211.55" x2="75.50" y2="211.55" stroke="#1a1a1a" stroke-width="1.5" />
<line x1="343.30" y1="211.55" x2="338.80" y2="211.55" stroke="#1a1a1a" stroke-width="1.5" />
<line x1="71.00" y1="208.07" x2="75.50" y2="208.07" stroke="#1a1a1a" stroke-width="1.5" />
<line x1="343.30" y1="208.07" x2="338.80" y2="208.07" stroke="#1a1a1a" stroke-width="1.5" />
<line x1="71.00" y1="204.95" x2="80.50" y2="204.95" stroke="#1a1a1a" stroke-width="1.5" />
<line x1="343.30" y1="204.95" x2="333.80" y2="204.95" stroke="#1a1a1a" stroke-width="1.5" />
<line x1="71.00" y1="184.44" x2="75.50" y2="184.44" stroke="#1a1a1a" stroke-width="1.5" />
<line x1="343.30" y1="184.44" x2="338.80" y2="184.44" stroke="#1a1a1a" stroke-width="1.5" />
<line x1="71.00" y1="172.45" x2="75.50" y2="172.45" stroke="#1a1a1a" stroke-width="1.5" />
<line x1="343.30" y1="172.45" x2="338.80" y2="172.45" stroke="#1a1a1a" stroke-width="1.5" />
<line x1="71.00" y1="163.93" x2="75.50" y2="163.93" stroke="#1a1a1a" stroke-width="1.5" />
<line x1="343.30" y1="163.93" x2="338.80" y2="163.93" stroke="#1a1a1a" stroke-width="1.5" />
<line x1="71.00" y1="157.33" x2="75.50" y2="157.33" stroke="#1a1a1a" stroke-width="1.5" />
<line x1="343.30" y1="157.33" x2="338.80" y2="157.33" stroke="#1a1a1a" stroke-width="1.5" />
<line x1="71.00" y1="151.94" x2="75.50" y2="151.94" stroke="#1a1a1a" stroke-width="1.5" />
<line x1="343.30" y1="151.94" x2="338.80" y2="151.94" stroke="#1a1a1a" stroke-width="1.5" />
<line x1="71.00" y1="147.38" x2="75.50" y2="147.38" stroke="#1a1a1a" stroke-width="1.5" />
<line x1="343.30" y1="147.38" x2="338.80" y2="147.38" stroke="#1a1a1a" stroke-width="1.5" />
<line x1="71.00" y1="143.43" x2="75.50" y2="143.43" stroke="#1a1a1a" stroke-width="1.5" />
<line x1="343.30" y1="143.43" x2="338.80" y2="143.43" stroke="#1a1a1a" stroke-width="1.5" />
<line x1="71.00" y1="139.94" x2="75.50" y2="139.94" stroke="#1a1a1a" stroke-width="1.5" />
<line x1="343.30" y1="139.94" x2="338.80" y2="139.94" stroke="#1a1a1a" stroke-width="1.5" />
<line x1="71.00" y1="136.82" x2="80.50" y2="136.82" stroke="#1a1a1a" stroke-width="1.5" />
<line x1="343.30" y1="136.82" x2="333.80" y2="136.82" stroke="#1a1a1a" stroke-width="1.5" />
<line x1="71.00" y1="116.32" x2="75.50" y2="116.32" stroke="#1a1a1a" stroke-width="1.5" />
<line x1="343.30" y1="116.32" x2="338.80" y2="116.32" stroke="#1a1a1a" stroke-width="1.5" />
<line x1="71.00" y1="104.32" x2="75.50" y2="104.32" stroke="#1a1a1a" stroke-width="1.5" />
<line x1="343.30" y1="104.32" x2="338.80" y2="104.32" stroke="#1a1a1a" stroke-width="1.5" />
<line x1="71.00" y1="95.81" x2="75.50" y2="95.81" stroke="#1a1a1a" stroke-width="1.5" />
<line x1="343.30" y1="95.81" x2="338.80" y2="95.81" stroke="#1a1a1a" stroke-width="1.5" />
<line x1="71.00" y1="89.21" x2="75.50" y2="89.21" stroke="#1a1a1a" stroke-width="1.5" />
<line x1="343.30" y1="89.21" x2="338.80" y2="89.21" stroke="#1a1a1a" stroke-width="1.5" />
<line x1="71.00" y1="83.81" x2="75.50" y2="83.81" stroke="#1a1a1a" stroke-width="1.5" />
<line x1="343.30" y1="83.81" x2="338.80" y2="83.81" stroke="#1a1a1a" stroke-width="1.5" />
<line x1="71.00" y1="79.25" x2="75.50" y2="79.25" stroke="#1a1a1a" stroke-width="1.5" />
<line x1="343.30" y1="79.25" x2="338.80" y2="79.25" stroke="#1a1a1a" stroke-width="1.5" />
<line x1="71.00" y1="75.30" x2="75.50" y2="75.30" stroke="#1a1a1a" stroke-width="1.5" />
<line x1="343.30" y1="75.30" x2="338.80" y2="75.30" stroke="#1a1a1a" stroke-width="1.5" />
<line x1="71.00" y1="71.82" x2="75.50" y2="71.82" stroke="#1a1a1a" stroke-width="1.5" />
<line x1="343.30" y1="71.82" x2="338.80" y2="71.82" stroke="#1a1a1a" stroke-width="1.5" />
<line x1="71.00" y1="68.70" x2="80.50" y2="68.70" stroke="#1a1a1a" stroke-width="1.5" />
<line x1="343.30" y1="68.70" x2="333.80" y2="68.70" stroke="#1a1a1a" stroke-width="1.5" />
<line x1="71.00" y1="341.20" x2="71.00" y2="332.20" stroke="#1a1a1a" stroke-width="1.5" />
<line x1="71.00" y1="68.70" x2="71.00" y2="77.70" stroke="#1a1a1a" stroke-width="1.5" />
<line x1="128.95" y1="341.20" x2="128.95" y2="332.20" stroke="#1a1a1a" stroke-width="1.5" />
<line x1="128.95" y1="68.70" x2="128.95" y2="77.70" stroke="#1a1a1a" stroke-width="1.5" />
<line x1="186.90" y1="341.20" x2="186.90" y2="332.20" stroke="#1a1a1a" stroke-width="1.5" />
<line x1="186.90" y1="68.70" x2="186.90" y2="77.70" stroke="#1a1a1a" stroke-width="1.5" />
<line x1="244.85" y1="341.20" x2="244.85" y2="332.20" stroke="#1a1a1a" stroke-width="1.5" />
<line x1="244.85" y1="68.70" x2="244.85" y2="77.70" stroke="#1a1a1a" stroke-width="1.5" />
<line x1="302.80" y1="341.20" x2="302.80" y2="332.20" stroke="#1a1a1a" stroke-width="1.5" />
<line x1="302.80" y1="68.70" x2="302.80" y2="77.70" stroke="#1a1a1a" stroke-width="1.5" />
<text x="62.50" y="79.00" font-size="17.5" text-anchor="end"><tspan class="o1">1</tspan>0<tspan font-size="11.5" dy="-11.5">0</tspan></text>
<text x="62.50" y="147.12" font-size="17.5" text-anchor="end"><tspan class="o1">1</tspan>0<tspan font-size="11.5" dy="-11.5">-<tspan class="o1">1</tspan></tspan></text>
<text x="62.50" y="215.25" font-size="17.5" text-anchor="end"><tspan class="o1">1</tspan>0<tspan font-size="11.5" dy="-11.5">-2</tspan></text>
<text x="62.50" y="283.38" font-size="17.5" text-anchor="end"><tspan class="o1">1</tspan>0<tspan font-size="11.5" dy="-11.5">-3</tspan></text>
<text x="62.50" y="351.50" font-size="17.5" text-anchor="end"><tspan class="o1">1</tspan>0<tspan font-size="11.5" dy="-11.5">-4</tspan></text>
<text x="71.30" y="373.00" font-size="17.5" text-anchor="middle"><tspan class="o1">1</tspan>0<tspan font-size="11.5" dy="-11.5">0</tspan></text>
<text x="129.25" y="373.00" font-size="17.5" text-anchor="middle"><tspan class="o1">1</tspan>0<tspan font-size="11.5" dy="-11.5"><tspan class="o1">1</tspan></tspan></text>
<text x="187.20" y="373.00" font-size="17.5" text-anchor="middle"><tspan class="o1">1</tspan>0<tspan font-size="11.5" dy="-11.5">2</tspan></text>
<text x="245.15" y="373.00" font-size="17.5" text-anchor="middle"><tspan class="o1">1</tspan>0<tspan font-size="11.5" dy="-11.5">3</tspan></text>
<text x="303.10" y="373.00" font-size="17.5" text-anchor="middle"><tspan class="o1">1</tspan>0<tspan font-size="11.5" dy="-11.5">4</tspan></text>
<text transform="translate(25,242) rotate(-90)" font-size="17.5"><tspan font-size="12" dy="-11">26</tspan><tspan dy="11">Al/</tspan><tspan font-size="12" dy="-11">27</tspan><tspan dy="11">Al</tspan></text>
<text x="163" y="397.3" font-size="17.5"><tspan font-size="12" dy="-11.5">14</tspan><tspan dy="11.5">N/</tspan><tspan font-size="12" dy="-11.5">15</tspan><tspan dy="11.5">N</tspan></text>
<text x="79.30" y="90.20" font-size="15.5" text-anchor="start" >(a)</text>
<rect x="434" y="75" width="272.00" height="272.00" fill="none" stroke="#1a1a1a" stroke-width="1.75"/>
<line x1="434.00" y1="326.53" x2="438.50" y2="326.53" stroke="#1a1a1a" stroke-width="1.5" />
<line x1="706.00" y1="326.53" x2="701.50" y2="326.53" stroke="#1a1a1a" stroke-width="1.5" />
<line x1="434.00" y1="314.56" x2="438.50" y2="314.56" stroke="#1a1a1a" stroke-width="1.5" />
<line x1="706.00" y1="314.56" x2="701.50" y2="314.56" stroke="#1a1a1a" stroke-width="1.5" />
<line x1="434.00" y1="306.06" x2="438.50" y2="306.06" stroke="#1a1a1a" stroke-width="1.5" />
<line x1="706.00" y1="306.06" x2="701.50" y2="306.06" stroke="#1a1a1a" stroke-width="1.5" />
<line x1="434.00" y1="299.47" x2="438.50" y2="299.47" stroke="#1a1a1a" stroke-width="1.5" />
<line x1="706.00" y1="299.47" x2="701.50" y2="299.47" stroke="#1a1a1a" stroke-width="1.5" />
<line x1="434.00" y1="294.09" x2="438.50" y2="294.09" stroke="#1a1a1a" stroke-width="1.5" />
<line x1="706.00" y1="294.09" x2="701.50" y2="294.09" stroke="#1a1a1a" stroke-width="1.5" />
<line x1="434.00" y1="289.53" x2="438.50" y2="289.53" stroke="#1a1a1a" stroke-width="1.5" />
<line x1="706.00" y1="289.53" x2="701.50" y2="289.53" stroke="#1a1a1a" stroke-width="1.5" />
<line x1="434.00" y1="285.59" x2="438.50" y2="285.59" stroke="#1a1a1a" stroke-width="1.5" />
<line x1="706.00" y1="285.59" x2="701.50" y2="285.59" stroke="#1a1a1a" stroke-width="1.5" />
<line x1="434.00" y1="282.11" x2="438.50" y2="282.11" stroke="#1a1a1a" stroke-width="1.5" />
<line x1="706.00" y1="282.11" x2="701.50" y2="282.11" stroke="#1a1a1a" stroke-width="1.5" />
<line x1="434.00" y1="279.00" x2="443.50" y2="279.00" stroke="#1a1a1a" stroke-width="1.5" />
<line x1="706.00" y1="279.00" x2="696.50" y2="279.00" stroke="#1a1a1a" stroke-width="1.5" />
<line x1="434.00" y1="258.53" x2="438.50" y2="258.53" stroke="#1a1a1a" stroke-width="1.5" />
<line x1="706.00" y1="258.53" x2="701.50" y2="258.53" stroke="#1a1a1a" stroke-width="1.5" />
<line x1="434.00" y1="246.56" x2="438.50" y2="246.56" stroke="#1a1a1a" stroke-width="1.5" />
<line x1="706.00" y1="246.56" x2="701.50" y2="246.56" stroke="#1a1a1a" stroke-width="1.5" />
<line x1="434.00" y1="238.06" x2="438.50" y2="238.06" stroke="#1a1a1a" stroke-width="1.5" />
<line x1="706.00" y1="238.06" x2="701.50" y2="238.06" stroke="#1a1a1a" stroke-width="1.5" />
<line x1="434.00" y1="231.47" x2="438.50" y2="231.47" stroke="#1a1a1a" stroke-width="1.5" />
<line x1="706.00" y1="231.47" x2="701.50" y2="231.47" stroke="#1a1a1a" stroke-width="1.5" />
<line x1="434.00" y1="226.09" x2="438.50" y2="226.09" stroke="#1a1a1a" stroke-width="1.5" />
<line x1="706.00" y1="226.09" x2="701.50" y2="226.09" stroke="#1a1a1a" stroke-width="1.5" />
<line x1="434.00" y1="221.53" x2="438.50" y2="221.53" stroke="#1a1a1a" stroke-width="1.5" />
<line x1="706.00" y1="221.53" x2="701.50" y2="221.53" stroke="#1a1a1a" stroke-width="1.5" />
<line x1="434.00" y1="217.59" x2="438.50" y2="217.59" stroke="#1a1a1a" stroke-width="1.5" />
<line x1="706.00" y1="217.59" x2="701.50" y2="217.59" stroke="#1a1a1a" stroke-width="1.5" />
<line x1="434.00" y1="214.11" x2="438.50" y2="214.11" stroke="#1a1a1a" stroke-width="1.5" />
<line x1="706.00" y1="214.11" x2="701.50" y2="214.11" stroke="#1a1a1a" stroke-width="1.5" />
<line x1="434.00" y1="211.00" x2="443.50" y2="211.00" stroke="#1a1a1a" stroke-width="1.5" />
<line x1="706.00" y1="211.00" x2="696.50" y2="211.00" stroke="#1a1a1a" stroke-width="1.5" />
<line x1="434.00" y1="190.53" x2="438.50" y2="190.53" stroke="#1a1a1a" stroke-width="1.5" />
<line x1="706.00" y1="190.53" x2="701.50" y2="190.53" stroke="#1a1a1a" stroke-width="1.5" />
<line x1="434.00" y1="178.56" x2="438.50" y2="178.56" stroke="#1a1a1a" stroke-width="1.5" />
<line x1="706.00" y1="178.56" x2="701.50" y2="178.56" stroke="#1a1a1a" stroke-width="1.5" />
<line x1="434.00" y1="170.06" x2="438.50" y2="170.06" stroke="#1a1a1a" stroke-width="1.5" />
<line x1="706.00" y1="170.06" x2="701.50" y2="170.06" stroke="#1a1a1a" stroke-width="1.5" />
<line x1="434.00" y1="163.47" x2="438.50" y2="163.47" stroke="#1a1a1a" stroke-width="1.5" />
<line x1="706.00" y1="163.47" x2="701.50" y2="163.47" stroke="#1a1a1a" stroke-width="1.5" />
<line x1="434.00" y1="158.09" x2="438.50" y2="158.09" stroke="#1a1a1a" stroke-width="1.5" />
<line x1="706.00" y1="158.09" x2="701.50" y2="158.09" stroke="#1a1a1a" stroke-width="1.5" />
<line x1="434.00" y1="153.53" x2="438.50" y2="153.53" stroke="#1a1a1a" stroke-width="1.5" />
<line x1="706.00" y1="153.53" x2="701.50" y2="153.53" stroke="#1a1a1a" stroke-width="1.5" />
<line x1="434.00" y1="149.59" x2="438.50" y2="149.59" stroke="#1a1a1a" stroke-width="1.5" />
<line x1="706.00" y1="149.59" x2="701.50" y2="149.59" stroke="#1a1a1a" stroke-width="1.5" />
<line x1="434.00" y1="146.11" x2="438.50" y2="146.11" stroke="#1a1a1a" stroke-width="1.5" />
<line x1="706.00" y1="146.11" x2="701.50" y2="146.11" stroke="#1a1a1a" stroke-width="1.5" />
<line x1="434.00" y1="143.00" x2="443.50" y2="143.00" stroke="#1a1a1a" stroke-width="1.5" />
<line x1="706.00" y1="143.00" x2="696.50" y2="143.00" stroke="#1a1a1a" stroke-width="1.5" />
<line x1="434.00" y1="122.53" x2="438.50" y2="122.53" stroke="#1a1a1a" stroke-width="1.5" />
<line x1="706.00" y1="122.53" x2="701.50" y2="122.53" stroke="#1a1a1a" stroke-width="1.5" />
<line x1="434.00" y1="110.56" x2="438.50" y2="110.56" stroke="#1a1a1a" stroke-width="1.5" />
<line x1="706.00" y1="110.56" x2="701.50" y2="110.56" stroke="#1a1a1a" stroke-width="1.5" />
<line x1="434.00" y1="102.06" x2="438.50" y2="102.06" stroke="#1a1a1a" stroke-width="1.5" />
<line x1="706.00" y1="102.06" x2="701.50" y2="102.06" stroke="#1a1a1a" stroke-width="1.5" />
<line x1="434.00" y1="95.47" x2="438.50" y2="95.47" stroke="#1a1a1a" stroke-width="1.5" />
<line x1="706.00" y1="95.47" x2="701.50" y2="95.47" stroke="#1a1a1a" stroke-width="1.5" />
<line x1="434.00" y1="90.09" x2="438.50" y2="90.09" stroke="#1a1a1a" stroke-width="1.5" />
<line x1="706.00" y1="90.09" x2="701.50" y2="90.09" stroke="#1a1a1a" stroke-width="1.5" />
<line x1="434.00" y1="85.53" x2="438.50" y2="85.53" stroke="#1a1a1a" stroke-width="1.5" />
<line x1="706.00" y1="85.53" x2="701.50" y2="85.53" stroke="#1a1a1a" stroke-width="1.5" />
<line x1="434.00" y1="81.59" x2="438.50" y2="81.59" stroke="#1a1a1a" stroke-width="1.5" />
<line x1="706.00" y1="81.59" x2="701.50" y2="81.59" stroke="#1a1a1a" stroke-width="1.5" />
<line x1="434.00" y1="78.11" x2="438.50" y2="78.11" stroke="#1a1a1a" stroke-width="1.5" />
<line x1="706.00" y1="78.11" x2="701.50" y2="78.11" stroke="#1a1a1a" stroke-width="1.5" />
<line x1="434.00" y1="75.00" x2="443.50" y2="75.00" stroke="#1a1a1a" stroke-width="1.5" />
<line x1="706.00" y1="75.00" x2="696.50" y2="75.00" stroke="#1a1a1a" stroke-width="1.5" />
<line x1="434.00" y1="347.00" x2="434.00" y2="338.00" stroke="#1a1a1a" stroke-width="1.5" />
<line x1="434.00" y1="75.00" x2="434.00" y2="84.00" stroke="#1a1a1a" stroke-width="1.5" />
<line x1="455.71" y1="347.00" x2="455.71" y2="342.50" stroke="#1a1a1a" stroke-width="1.5" />
<line x1="455.71" y1="75.00" x2="455.71" y2="79.50" stroke="#1a1a1a" stroke-width="1.5" />
<line x1="468.41" y1="347.00" x2="468.41" y2="342.50" stroke="#1a1a1a" stroke-width="1.5" />
<line x1="468.41" y1="75.00" x2="468.41" y2="79.50" stroke="#1a1a1a" stroke-width="1.5" />
<line x1="477.43" y1="347.00" x2="477.43" y2="342.50" stroke="#1a1a1a" stroke-width="1.5" />
<line x1="477.43" y1="75.00" x2="477.43" y2="79.50" stroke="#1a1a1a" stroke-width="1.5" />
<line x1="484.42" y1="347.00" x2="484.42" y2="342.50" stroke="#1a1a1a" stroke-width="1.5" />
<line x1="484.42" y1="75.00" x2="484.42" y2="79.50" stroke="#1a1a1a" stroke-width="1.5" />
<line x1="490.13" y1="347.00" x2="490.13" y2="342.50" stroke="#1a1a1a" stroke-width="1.5" />
<line x1="490.13" y1="75.00" x2="490.13" y2="79.50" stroke="#1a1a1a" stroke-width="1.5" />
<line x1="494.96" y1="347.00" x2="494.96" y2="342.50" stroke="#1a1a1a" stroke-width="1.5" />
<line x1="494.96" y1="75.00" x2="494.96" y2="79.50" stroke="#1a1a1a" stroke-width="1.5" />
<line x1="499.14" y1="347.00" x2="499.14" y2="342.50" stroke="#1a1a1a" stroke-width="1.5" />
<line x1="499.14" y1="75.00" x2="499.14" y2="79.50" stroke="#1a1a1a" stroke-width="1.5" />
<line x1="502.83" y1="347.00" x2="502.83" y2="342.50" stroke="#1a1a1a" stroke-width="1.5" />
<line x1="502.83" y1="75.00" x2="502.83" y2="79.50" stroke="#1a1a1a" stroke-width="1.5" />
<line x1="506.13" y1="347.00" x2="506.13" y2="338.00" stroke="#1a1a1a" stroke-width="1.5" />
<line x1="506.13" y1="75.00" x2="506.13" y2="84.00" stroke="#1a1a1a" stroke-width="1.5" />
<line x1="527.84" y1="347.00" x2="527.84" y2="342.50" stroke="#1a1a1a" stroke-width="1.5" />
<line x1="527.84" y1="75.00" x2="527.84" y2="79.50" stroke="#1a1a1a" stroke-width="1.5" />
<line x1="540.54" y1="347.00" x2="540.54" y2="342.50" stroke="#1a1a1a" stroke-width="1.5" />
<line x1="540.54" y1="75.00" x2="540.54" y2="79.50" stroke="#1a1a1a" stroke-width="1.5" />
<line x1="549.56" y1="347.00" x2="549.56" y2="342.50" stroke="#1a1a1a" stroke-width="1.5" />
<line x1="549.56" y1="75.00" x2="549.56" y2="79.50" stroke="#1a1a1a" stroke-width="1.5" />
<line x1="556.55" y1="347.00" x2="556.55" y2="342.50" stroke="#1a1a1a" stroke-width="1.5" />
<line x1="556.55" y1="75.00" x2="556.55" y2="79.50" stroke="#1a1a1a" stroke-width="1.5" />
<line x1="562.26" y1="347.00" x2="562.26" y2="342.50" stroke="#1a1a1a" stroke-width="1.5" />
<line x1="562.26" y1="75.00" x2="562.26" y2="79.50" stroke="#1a1a1a" stroke-width="1.5" />
<line x1="567.09" y1="347.00" x2="567.09" y2="342.50" stroke="#1a1a1a" stroke-width="1.5" />
<line x1="567.09" y1="75.00" x2="567.09" y2="79.50" stroke="#1a1a1a" stroke-width="1.5" />
<line x1="571.27" y1="347.00" x2="571.27" y2="342.50" stroke="#1a1a1a" stroke-width="1.5" />
<line x1="571.27" y1="75.00" x2="571.27" y2="79.50" stroke="#1a1a1a" stroke-width="1.5" />
<line x1="574.96" y1="347.00" x2="574.96" y2="342.50" stroke="#1a1a1a" stroke-width="1.5" />
<line x1="574.96" y1="75.00" x2="574.96" y2="79.50" stroke="#1a1a1a" stroke-width="1.5" />
<line x1="578.26" y1="347.00" x2="578.26" y2="338.00" stroke="#1a1a1a" stroke-width="1.5" />
<line x1="578.26" y1="75.00" x2="578.26" y2="84.00" stroke="#1a1a1a" stroke-width="1.5" />
<line x1="599.97" y1="347.00" x2="599.97" y2="342.50" stroke="#1a1a1a" stroke-width="1.5" />
<line x1="599.97" y1="75.00" x2="599.97" y2="79.50" stroke="#1a1a1a" stroke-width="1.5" />
<line x1="612.67" y1="347.00" x2="612.67" y2="342.50" stroke="#1a1a1a" stroke-width="1.5" />
<line x1="612.67" y1="75.00" x2="612.67" y2="79.50" stroke="#1a1a1a" stroke-width="1.5" />
<line x1="621.69" y1="347.00" x2="621.69" y2="342.50" stroke="#1a1a1a" stroke-width="1.5" />
<line x1="621.69" y1="75.00" x2="621.69" y2="79.50" stroke="#1a1a1a" stroke-width="1.5" />
<line x1="628.68" y1="347.00" x2="628.68" y2="342.50" stroke="#1a1a1a" stroke-width="1.5" />
<line x1="628.68" y1="75.00" x2="628.68" y2="79.50" stroke="#1a1a1a" stroke-width="1.5" />
<line x1="634.39" y1="347.00" x2="634.39" y2="342.50" stroke="#1a1a1a" stroke-width="1.5" />
<line x1="634.39" y1="75.00" x2="634.39" y2="79.50" stroke="#1a1a1a" stroke-width="1.5" />
<line x1="639.22" y1="347.00" x2="639.22" y2="342.50" stroke="#1a1a1a" stroke-width="1.5" />
<line x1="639.22" y1="75.00" x2="639.22" y2="79.50" stroke="#1a1a1a" stroke-width="1.5" />
<line x1="643.40" y1="347.00" x2="643.40" y2="342.50" stroke="#1a1a1a" stroke-width="1.5" />
<line x1="643.40" y1="75.00" x2="643.40" y2="79.50" stroke="#1a1a1a" stroke-width="1.5" />
<line x1="647.09" y1="347.00" x2="647.09" y2="342.50" stroke="#1a1a1a" stroke-width="1.5" />
<line x1="647.09" y1="75.00" x2="647.09" y2="79.50" stroke="#1a1a1a" stroke-width="1.5" />
<line x1="650.39" y1="347.00" x2="650.39" y2="338.00" stroke="#1a1a1a" stroke-width="1.5" />
<line x1="650.39" y1="75.00" x2="650.39" y2="84.00" stroke="#1a1a1a" stroke-width="1.5" />
<line x1="672.10" y1="347.00" x2="672.10" y2="342.50" stroke="#1a1a1a" stroke-width="1.5" />
<line x1="672.10" y1="75.00" x2="672.10" y2="79.50" stroke="#1a1a1a" stroke-width="1.5" />
<line x1="684.80" y1="347.00" x2="684.80" y2="342.50" stroke="#1a1a1a" stroke-width="1.5" />
<line x1="684.80" y1="75.00" x2="684.80" y2="79.50" stroke="#1a1a1a" stroke-width="1.5" />
<line x1="693.82" y1="347.00" x2="693.82" y2="342.50" stroke="#1a1a1a" stroke-width="1.5" />
<line x1="693.82" y1="75.00" x2="693.82" y2="79.50" stroke="#1a1a1a" stroke-width="1.5" />
<line x1="700.81" y1="347.00" x2="700.81" y2="342.50" stroke="#1a1a1a" stroke-width="1.5" />
<line x1="700.81" y1="75.00" x2="700.81" y2="79.50" stroke="#1a1a1a" stroke-width="1.5" />
<text x="426.00" y="84.30" font-size="17.5" text-anchor="end"><tspan class="o1">1</tspan>0<tspan font-size="11.5" dy="-11.5">0</tspan></text>
<text x="426.00" y="152.30" font-size="17.5" text-anchor="end"><tspan class="o1">1</tspan>0<tspan font-size="11.5" dy="-11.5">-<tspan class="o1">1</tspan></tspan></text>
<text x="426.00" y="220.30" font-size="17.5" text-anchor="end"><tspan class="o1">1</tspan>0<tspan font-size="11.5" dy="-11.5">-2</tspan></text>
<text x="426.00" y="288.30" font-size="17.5" text-anchor="end"><tspan class="o1">1</tspan>0<tspan font-size="11.5" dy="-11.5">-3</tspan></text>
<text x="426.00" y="356.30" font-size="17.5" text-anchor="end"><tspan class="o1">1</tspan>0<tspan font-size="11.5" dy="-11.5">-4</tspan></text>
<text x="434.30" y="371.80" font-size="17.5" text-anchor="middle" ><tspan class="o1">1</tspan></text>
<text x="506.43" y="371.80" font-size="17.5" text-anchor="middle" ><tspan class="o1">1</tspan>0</text>
<text x="578.56" y="371.80" font-size="17.5" text-anchor="middle" ><tspan class="o1">1</tspan>00</text>
<text x="650.69" y="371.80" font-size="17.5" text-anchor="middle" ><tspan class="o1">1</tspan>000</text>
<text transform="translate(389.6,244) rotate(-90)" font-size="17.5"><tspan font-size="12" dy="-11">26</tspan><tspan dy="11">Al/</tspan><tspan font-size="12" dy="-11">27</tspan><tspan dy="11">Al</tspan></text>
<text x="531.5" y="394.8" font-size="17.5"><tspan font-size="12" dy="-11.5">14</tspan><tspan dy="11.5">N/</tspan><tspan font-size="12" dy="-11.5">15</tspan><tspan dy="11.5">N</tspan></text>
<text x="443.80" y="94.80" font-size="15.5" text-anchor="start" >(b)</text>
<rect x="70.9" y="412.5" width="272.40" height="272.10" fill="none" stroke="#1a1a1a" stroke-width="1.75"/>
<line x1="70.90" y1="684.60" x2="70.90" y2="675.60" stroke="#1a1a1a" stroke-width="1.5" />
<line x1="70.90" y1="412.50" x2="70.90" y2="421.50" stroke="#1a1a1a" stroke-width="1.5" />
<line x1="84.52" y1="684.60" x2="84.52" y2="680.10" stroke="#1a1a1a" stroke-width="1.5" />
<line x1="84.52" y1="412.50" x2="84.52" y2="417.00" stroke="#1a1a1a" stroke-width="1.5" />
<line x1="98.14" y1="684.60" x2="98.14" y2="680.10" stroke="#1a1a1a" stroke-width="1.5" />
<line x1="98.14" y1="412.50" x2="98.14" y2="417.00" stroke="#1a1a1a" stroke-width="1.5" />
<line x1="111.76" y1="684.60" x2="111.76" y2="680.10" stroke="#1a1a1a" stroke-width="1.5" />
<line x1="111.76" y1="412.50" x2="111.76" y2="417.00" stroke="#1a1a1a" stroke-width="1.5" />
<line x1="125.38" y1="684.60" x2="125.38" y2="680.10" stroke="#1a1a1a" stroke-width="1.5" />
<line x1="125.38" y1="412.50" x2="125.38" y2="417.00" stroke="#1a1a1a" stroke-width="1.5" />
<line x1="139.00" y1="684.60" x2="139.00" y2="675.60" stroke="#1a1a1a" stroke-width="1.5" />
<line x1="139.00" y1="412.50" x2="139.00" y2="421.50" stroke="#1a1a1a" stroke-width="1.5" />
<line x1="152.62" y1="684.60" x2="152.62" y2="680.10" stroke="#1a1a1a" stroke-width="1.5" />
<line x1="152.62" y1="412.50" x2="152.62" y2="417.00" stroke="#1a1a1a" stroke-width="1.5" />
<line x1="166.24" y1="684.60" x2="166.24" y2="680.10" stroke="#1a1a1a" stroke-width="1.5" />
<line x1="166.24" y1="412.50" x2="166.24" y2="417.00" stroke="#1a1a1a" stroke-width="1.5" />
<line x1="179.86" y1="684.60" x2="179.86" y2="680.10" stroke="#1a1a1a" stroke-width="1.5" />
<line x1="179.86" y1="412.50" x2="179.86" y2="417.00" stroke="#1a1a1a" stroke-width="1.5" />
<line x1="193.48" y1="684.60" x2="193.48" y2="680.10" stroke="#1a1a1a" stroke-width="1.5" />
<line x1="193.48" y1="412.50" x2="193.48" y2="417.00" stroke="#1a1a1a" stroke-width="1.5" />
<line x1="207.10" y1="684.60" x2="207.10" y2="675.60" stroke="#1a1a1a" stroke-width="1.5" />
<line x1="207.10" y1="412.50" x2="207.10" y2="421.50" stroke="#1a1a1a" stroke-width="1.5" />
<line x1="220.72" y1="684.60" x2="220.72" y2="680.10" stroke="#1a1a1a" stroke-width="1.5" />
<line x1="220.72" y1="412.50" x2="220.72" y2="417.00" stroke="#1a1a1a" stroke-width="1.5" />
<line x1="234.34" y1="684.60" x2="234.34" y2="680.10" stroke="#1a1a1a" stroke-width="1.5" />
<line x1="234.34" y1="412.50" x2="234.34" y2="417.00" stroke="#1a1a1a" stroke-width="1.5" />
<line x1="247.96" y1="684.60" x2="247.96" y2="680.10" stroke="#1a1a1a" stroke-width="1.5" />
<line x1="247.96" y1="412.50" x2="247.96" y2="417.00" stroke="#1a1a1a" stroke-width="1.5" />
<line x1="261.58" y1="684.60" x2="261.58" y2="680.10" stroke="#1a1a1a" stroke-width="1.5" />
<line x1="261.58" y1="412.50" x2="261.58" y2="417.00" stroke="#1a1a1a" stroke-width="1.5" />
<line x1="275.20" y1="684.60" x2="275.20" y2="675.60" stroke="#1a1a1a" stroke-width="1.5" />
<line x1="275.20" y1="412.50" x2="275.20" y2="421.50" stroke="#1a1a1a" stroke-width="1.5" />
<line x1="288.82" y1="684.60" x2="288.82" y2="680.10" stroke="#1a1a1a" stroke-width="1.5" />
<line x1="288.82" y1="412.50" x2="288.82" y2="417.00" stroke="#1a1a1a" stroke-width="1.5" />
<line x1="302.44" y1="684.60" x2="302.44" y2="680.10" stroke="#1a1a1a" stroke-width="1.5" />
<line x1="302.44" y1="412.50" x2="302.44" y2="417.00" stroke="#1a1a1a" stroke-width="1.5" />
<line x1="316.06" y1="684.60" x2="316.06" y2="680.10" stroke="#1a1a1a" stroke-width="1.5" />
<line x1="316.06" y1="412.50" x2="316.06" y2="417.00" stroke="#1a1a1a" stroke-width="1.5" />
<line x1="329.68" y1="684.60" x2="329.68" y2="680.10" stroke="#1a1a1a" stroke-width="1.5" />
<line x1="329.68" y1="412.50" x2="329.68" y2="417.00" stroke="#1a1a1a" stroke-width="1.5" />
<line x1="343.30" y1="684.60" x2="343.30" y2="675.60" stroke="#1a1a1a" stroke-width="1.5" />
<line x1="343.30" y1="412.50" x2="343.30" y2="421.50" stroke="#1a1a1a" stroke-width="1.5" />
<line x1="70.90" y1="669.49" x2="75.40" y2="669.49" stroke="#1a1a1a" stroke-width="1.5" />
<line x1="343.30" y1="669.49" x2="338.80" y2="669.49" stroke="#1a1a1a" stroke-width="1.5" />
<line x1="70.90" y1="657.61" x2="75.40" y2="657.61" stroke="#1a1a1a" stroke-width="1.5" />
<line x1="343.30" y1="657.61" x2="338.80" y2="657.61" stroke="#1a1a1a" stroke-width="1.5" />
<line x1="70.90" y1="647.90" x2="75.40" y2="647.90" stroke="#1a1a1a" stroke-width="1.5" />
<line x1="343.30" y1="647.90" x2="338.80" y2="647.90" stroke="#1a1a1a" stroke-width="1.5" />
<line x1="70.90" y1="639.69" x2="75.40" y2="639.69" stroke="#1a1a1a" stroke-width="1.5" />
<line x1="343.30" y1="639.69" x2="338.80" y2="639.69" stroke="#1a1a1a" stroke-width="1.5" />
<line x1="70.90" y1="632.58" x2="75.40" y2="632.58" stroke="#1a1a1a" stroke-width="1.5" />
<line x1="343.30" y1="632.58" x2="338.80" y2="632.58" stroke="#1a1a1a" stroke-width="1.5" />
<line x1="70.90" y1="626.31" x2="75.40" y2="626.31" stroke="#1a1a1a" stroke-width="1.5" />
<line x1="343.30" y1="626.31" x2="338.80" y2="626.31" stroke="#1a1a1a" stroke-width="1.5" />
<line x1="70.90" y1="620.70" x2="80.40" y2="620.70" stroke="#1a1a1a" stroke-width="1.5" />
<line x1="343.30" y1="620.70" x2="333.80" y2="620.70" stroke="#1a1a1a" stroke-width="1.5" />
<line x1="70.90" y1="583.79" x2="75.40" y2="583.79" stroke="#1a1a1a" stroke-width="1.5" />
<line x1="343.30" y1="583.79" x2="338.80" y2="583.79" stroke="#1a1a1a" stroke-width="1.5" />
<line x1="70.90" y1="562.20" x2="75.40" y2="562.20" stroke="#1a1a1a" stroke-width="1.5" />
<line x1="343.30" y1="562.20" x2="338.80" y2="562.20" stroke="#1a1a1a" stroke-width="1.5" />
<line x1="70.90" y1="546.89" x2="75.40" y2="546.89" stroke="#1a1a1a" stroke-width="1.5" />
<line x1="343.30" y1="546.89" x2="338.80" y2="546.89" stroke="#1a1a1a" stroke-width="1.5" />
<line x1="70.90" y1="535.01" x2="75.40" y2="535.01" stroke="#1a1a1a" stroke-width="1.5" />
<line x1="343.30" y1="535.01" x2="338.80" y2="535.01" stroke="#1a1a1a" stroke-width="1.5" />
<line x1="70.90" y1="525.30" x2="75.40" y2="525.30" stroke="#1a1a1a" stroke-width="1.5" />
<line x1="343.30" y1="525.30" x2="338.80" y2="525.30" stroke="#1a1a1a" stroke-width="1.5" />
<line x1="70.90" y1="517.09" x2="75.40" y2="517.09" stroke="#1a1a1a" stroke-width="1.5" />
<line x1="343.30" y1="517.09" x2="338.80" y2="517.09" stroke="#1a1a1a" stroke-width="1.5" />
<line x1="70.90" y1="509.98" x2="75.40" y2="509.98" stroke="#1a1a1a" stroke-width="1.5" />
<line x1="343.30" y1="509.98" x2="338.80" y2="509.98" stroke="#1a1a1a" stroke-width="1.5" />
<line x1="70.90" y1="503.71" x2="75.40" y2="503.71" stroke="#1a1a1a" stroke-width="1.5" />
<line x1="343.30" y1="503.71" x2="338.80" y2="503.71" stroke="#1a1a1a" stroke-width="1.5" />
<line x1="70.90" y1="498.10" x2="80.40" y2="498.10" stroke="#1a1a1a" stroke-width="1.5" />
<line x1="343.30" y1="498.10" x2="333.80" y2="498.10" stroke="#1a1a1a" stroke-width="1.5" />
<line x1="70.90" y1="461.19" x2="75.40" y2="461.19" stroke="#1a1a1a" stroke-width="1.5" />
<line x1="343.30" y1="461.19" x2="338.80" y2="461.19" stroke="#1a1a1a" stroke-width="1.5" />
<line x1="70.90" y1="439.60" x2="75.40" y2="439.60" stroke="#1a1a1a" stroke-width="1.5" />
<line x1="343.30" y1="439.60" x2="338.80" y2="439.60" stroke="#1a1a1a" stroke-width="1.5" />
<line x1="70.90" y1="424.29" x2="75.40" y2="424.29" stroke="#1a1a1a" stroke-width="1.5" />
<line x1="343.30" y1="424.29" x2="338.80" y2="424.29" stroke="#1a1a1a" stroke-width="1.5" />
<text x="71.40" y="709.20" font-size="20" text-anchor="middle" ><tspan class="o1">1</tspan>0</text>
<text x="139.50" y="709.20" font-size="20" text-anchor="middle" ><tspan class="o1">1</tspan>5</text>
<text x="207.60" y="709.20" font-size="20" text-anchor="middle" >20</text>
<text x="275.70" y="709.20" font-size="20" text-anchor="middle" >25</text>
<text x="343.80" y="709.20" font-size="20" text-anchor="middle" >30</text>
<text x="62.50" y="507.70" font-size="17.5" text-anchor="end"><tspan class="o1">1</tspan>0<tspan font-size="12" dy="-12">-2</tspan></text>
<text x="62.50" y="630.30" font-size="17.5" text-anchor="end"><tspan class="o1">1</tspan>0<tspan font-size="12" dy="-12">-3</tspan></text>
<text x="69.00" y="428.49" font-size="12" text-anchor="end"  style="stroke-width:0.05px">4</text>
<text x="69.00" y="465.39" font-size="12" text-anchor="end"  style="stroke-width:0.05px">2</text>
<text x="69.00" y="514.18" font-size="12" text-anchor="end"  style="stroke-width:0.05px">8</text>
<text x="69.00" y="529.50" font-size="12" text-anchor="end"  style="stroke-width:0.05px">6</text>
<text x="69.00" y="551.09" font-size="12" text-anchor="end"  style="stroke-width:0.05px">4</text>
<text x="69.00" y="587.99" font-size="12" text-anchor="end"  style="stroke-width:0.05px">2</text>
<text x="69.00" y="636.78" font-size="12" text-anchor="end"  style="stroke-width:0.05px">8</text>
<text x="69.00" y="652.10" font-size="12" text-anchor="end"  style="stroke-width:0.05px">6</text>
<text x="69.00" y="673.69" font-size="12" text-anchor="end"  style="stroke-width:0.05px">4</text>
<text transform="translate(21.6,597.3) rotate(-90)" font-size="17.5"><tspan font-size="12" dy="-11">26</tspan><tspan dy="11">Al/</tspan><tspan font-size="12" dy="-11">27</tspan><tspan dy="11">Al</tspan></text>
<text x="157.06" y="745.00" font-size="20" text-anchor="start" >Mass (M</text>
<circle cx="241.2" cy="744.3" r="4.9" fill="none" stroke="#111" stroke-width="1.1"/><circle cx="241.2" cy="744.3" r="1.2" fill="#111"/>
<text x="249.10" y="745.00" font-size="20" text-anchor="start" >)</text>
<text x="530.70" y="745.00" font-size="20" text-anchor="start" >Mass (M</text>
<circle cx="614.7" cy="744.3" r="4.9" fill="none" stroke="#111" stroke-width="1.1"/><circle cx="614.7" cy="744.3" r="1.2" fill="#111"/>
<text x="621.60" y="745.00" font-size="20" text-anchor="start" >)</text>
<text x="82.30" y="438.80" font-size="15" text-anchor="start" >(c)</text>
<rect x="435.6" y="412.5" width="272.40" height="272.10" fill="none" stroke="#1a1a1a" stroke-width="1.75"/>
<line x1="435.60" y1="684.60" x2="435.60" y2="675.60" stroke="#1a1a1a" stroke-width="1.5" />
<line x1="435.60" y1="412.50" x2="435.60" y2="421.50" stroke="#1a1a1a" stroke-width="1.5" />
<line x1="449.22" y1="684.60" x2="449.22" y2="680.10" stroke="#1a1a1a" stroke-width="1.5" />
<line x1="449.22" y1="412.50" x2="449.22" y2="417.00" stroke="#1a1a1a" stroke-width="1.5" />
<line x1="462.84" y1="684.60" x2="462.84" y2="680.10" stroke="#1a1a1a" stroke-width="1.5" />
<line x1="462.84" y1="412.50" x2="462.84" y2="417.00" stroke="#1a1a1a" stroke-width="1.5" />
<line x1="476.46" y1="684.60" x2="476.46" y2="680.10" stroke="#1a1a1a" stroke-width="1.5" />
<line x1="476.46" y1="412.50" x2="476.46" y2="417.00" stroke="#1a1a1a" stroke-width="1.5" />
<line x1="490.08" y1="684.60" x2="490.08" y2="680.10" stroke="#1a1a1a" stroke-width="1.5" />
<line x1="490.08" y1="412.50" x2="490.08" y2="417.00" stroke="#1a1a1a" stroke-width="1.5" />
<line x1="503.70" y1="684.60" x2="503.70" y2="675.60" stroke="#1a1a1a" stroke-width="1.5" />
<line x1="503.70" y1="412.50" x2="503.70" y2="421.50" stroke="#1a1a1a" stroke-width="1.5" />
<line x1="517.32" y1="684.60" x2="517.32" y2="680.10" stroke="#1a1a1a" stroke-width="1.5" />
<line x1="517.32" y1="412.50" x2="517.32" y2="417.00" stroke="#1a1a1a" stroke-width="1.5" />
<line x1="530.94" y1="684.60" x2="530.94" y2="680.10" stroke="#1a1a1a" stroke-width="1.5" />
<line x1="530.94" y1="412.50" x2="530.94" y2="417.00" stroke="#1a1a1a" stroke-width="1.5" />
<line x1="544.56" y1="684.60" x2="544.56" y2="680.10" stroke="#1a1a1a" stroke-width="1.5" />
<line x1="544.56" y1="412.50" x2="544.56" y2="417.00" stroke="#1a1a1a" stroke-width="1.5" />
<line x1="558.18" y1="684.60" x2="558.18" y2="680.10" stroke="#1a1a1a" stroke-width="1.5" />
<line x1="558.18" y1="412.50" x2="558.18" y2="417.00" stroke="#1a1a1a" stroke-width="1.5" />
<line x1="571.80" y1="684.60" x2="571.80" y2="675.60" stroke="#1a1a1a" stroke-width="1.5" />
<line x1="571.80" y1="412.50" x2="571.80" y2="421.50" stroke="#1a1a1a" stroke-width="1.5" />
<line x1="585.42" y1="684.60" x2="585.42" y2="680.10" stroke="#1a1a1a" stroke-width="1.5" />
<line x1="585.42" y1="412.50" x2="585.42" y2="417.00" stroke="#1a1a1a" stroke-width="1.5" />
<line x1="599.04" y1="684.60" x2="599.04" y2="680.10" stroke="#1a1a1a" stroke-width="1.5" />
<line x1="599.04" y1="412.50" x2="599.04" y2="417.00" stroke="#1a1a1a" stroke-width="1.5" />
<line x1="612.66" y1="684.60" x2="612.66" y2="680.10" stroke="#1a1a1a" stroke-width="1.5" />
<line x1="612.66" y1="412.50" x2="612.66" y2="417.00" stroke="#1a1a1a" stroke-width="1.5" />
<line x1="626.28" y1="684.60" x2="626.28" y2="680.10" stroke="#1a1a1a" stroke-width="1.5" />
<line x1="626.28" y1="412.50" x2="626.28" y2="417.00" stroke="#1a1a1a" stroke-width="1.5" />
<line x1="639.90" y1="684.60" x2="639.90" y2="675.60" stroke="#1a1a1a" stroke-width="1.5" />
<line x1="639.90" y1="412.50" x2="639.90" y2="421.50" stroke="#1a1a1a" stroke-width="1.5" />
<line x1="653.52" y1="684.60" x2="653.52" y2="680.10" stroke="#1a1a1a" stroke-width="1.5" />
<line x1="653.52" y1="412.50" x2="653.52" y2="417.00" stroke="#1a1a1a" stroke-width="1.5" />
<line x1="667.14" y1="684.60" x2="667.14" y2="680.10" stroke="#1a1a1a" stroke-width="1.5" />
<line x1="667.14" y1="412.50" x2="667.14" y2="417.00" stroke="#1a1a1a" stroke-width="1.5" />
<line x1="680.76" y1="684.60" x2="680.76" y2="680.10" stroke="#1a1a1a" stroke-width="1.5" />
<line x1="680.76" y1="412.50" x2="680.76" y2="417.00" stroke="#1a1a1a" stroke-width="1.5" />
<line x1="694.38" y1="684.60" x2="694.38" y2="680.10" stroke="#1a1a1a" stroke-width="1.5" />
<line x1="694.38" y1="412.50" x2="694.38" y2="417.00" stroke="#1a1a1a" stroke-width="1.5" />
<line x1="708.00" y1="684.60" x2="708.00" y2="675.60" stroke="#1a1a1a" stroke-width="1.5" />
<line x1="708.00" y1="412.50" x2="708.00" y2="421.50" stroke="#1a1a1a" stroke-width="1.5" />
<line x1="435.60" y1="636.34" x2="440.10" y2="636.34" stroke="#1a1a1a" stroke-width="1.5" />
<line x1="708.00" y1="636.34" x2="703.50" y2="636.34" stroke="#1a1a1a" stroke-width="1.5" />
<line x1="435.60" y1="608.12" x2="440.10" y2="608.12" stroke="#1a1a1a" stroke-width="1.5" />
<line x1="708.00" y1="608.12" x2="703.50" y2="608.12" stroke="#1a1a1a" stroke-width="1.5" />
<line x1="435.60" y1="588.09" x2="440.10" y2="588.09" stroke="#1a1a1a" stroke-width="1.5" />
<line x1="708.00" y1="588.09" x2="703.50" y2="588.09" stroke="#1a1a1a" stroke-width="1.5" />
<line x1="435.60" y1="572.56" x2="440.10" y2="572.56" stroke="#1a1a1a" stroke-width="1.5" />
<line x1="708.00" y1="572.56" x2="703.50" y2="572.56" stroke="#1a1a1a" stroke-width="1.5" />
<line x1="435.60" y1="559.86" x2="440.10" y2="559.86" stroke="#1a1a1a" stroke-width="1.5" />
<line x1="708.00" y1="559.86" x2="703.50" y2="559.86" stroke="#1a1a1a" stroke-width="1.5" />
<line x1="435.60" y1="549.13" x2="440.10" y2="549.13" stroke="#1a1a1a" stroke-width="1.5" />
<line x1="708.00" y1="549.13" x2="703.50" y2="549.13" stroke="#1a1a1a" stroke-width="1.5" />
<line x1="435.60" y1="539.83" x2="440.10" y2="539.83" stroke="#1a1a1a" stroke-width="1.5" />
<line x1="708.00" y1="539.83" x2="703.50" y2="539.83" stroke="#1a1a1a" stroke-width="1.5" />
<line x1="435.60" y1="531.63" x2="440.10" y2="531.63" stroke="#1a1a1a" stroke-width="1.5" />
<line x1="708.00" y1="531.63" x2="703.50" y2="531.63" stroke="#1a1a1a" stroke-width="1.5" />
<line x1="435.60" y1="524.30" x2="445.10" y2="524.30" stroke="#1a1a1a" stroke-width="1.5" />
<line x1="708.00" y1="524.30" x2="698.50" y2="524.30" stroke="#1a1a1a" stroke-width="1.5" />
<line x1="435.60" y1="476.04" x2="440.10" y2="476.04" stroke="#1a1a1a" stroke-width="1.5" />
<line x1="708.00" y1="476.04" x2="703.50" y2="476.04" stroke="#1a1a1a" stroke-width="1.5" />
<line x1="435.60" y1="447.82" x2="440.10" y2="447.82" stroke="#1a1a1a" stroke-width="1.5" />
<line x1="708.00" y1="447.82" x2="703.50" y2="447.82" stroke="#1a1a1a" stroke-width="1.5" />
<line x1="435.60" y1="427.79" x2="440.10" y2="427.79" stroke="#1a1a1a" stroke-width="1.5" />
<line x1="708.00" y1="427.79" x2="703.50" y2="427.79" stroke="#1a1a1a" stroke-width="1.5" />
<text x="436.10" y="709.20" font-size="20" text-anchor="middle" ><tspan class="o1">1</tspan>0</text>
<text x="504.20" y="709.20" font-size="20" text-anchor="middle" ><tspan class="o1">1</tspan>5</text>
<text x="572.30" y="709.20" font-size="20" text-anchor="middle" >20</text>
<text x="640.40" y="709.20" font-size="20" text-anchor="middle" >25</text>
<text x="708.50" y="709.20" font-size="20" text-anchor="middle" >30</text>
<text x="427.00" y="533.60" font-size="17" text-anchor="end"><tspan class="o1">1</tspan>0<tspan font-size="11.5" dy="-11.5">4</tspan></text>
<text x="427.00" y="693.90" font-size="17" text-anchor="end"><tspan class="o1">1</tspan>0<tspan font-size="11.5" dy="-11.5">3</tspan></text>
<text x="434.00" y="431.99" font-size="12" text-anchor="end"  style="stroke-width:0.05px">4</text>
<text x="434.00" y="480.24" font-size="12" text-anchor="end"  style="stroke-width:0.05px">2</text>
<text x="434.00" y="544.03" font-size="12" text-anchor="end"  style="stroke-width:0.05px">8</text>
<text x="434.00" y="564.06" font-size="12" text-anchor="end"  style="stroke-width:0.05px">6</text>
<text x="434.00" y="592.29" font-size="12" text-anchor="end"  style="stroke-width:0.05px">4</text>
<text x="434.00" y="640.54" font-size="12" text-anchor="end"  style="stroke-width:0.05px">2</text>
<text transform="translate(398,592) rotate(-90)" font-size="17.5"><tspan font-size="12" dy="-11">14</tspan><tspan dy="11">N/</tspan><tspan font-size="12" dy="-11">15</tspan><tspan dy="11">N</tspan></text>
<text x="448.30" y="440.90" font-size="15" text-anchor="start" >(d)</text>
<rect x="189.7" y="290.3" width="145.9" height="35.4" fill="#fff" stroke="#1a1a1a" stroke-width="1.5"/>
<path d="M203.90,298.60 Q206.70,299.86 209.50,298.60 Q208.24,301.40 209.50,304.20 Q206.70,302.94 203.90,304.20 Q205.16,301.40 203.90,298.60Z" fill="#0aa044" stroke="#063a18" stroke-width="0.9"/>
<text x="220.40" y="305.60" font-size="12.6" text-anchor="start"  style="stroke-width:0.05px">Outermost layers</text>
<text x="203.50" y="319.40" font-size="12.6" text-anchor="start"  style="stroke-width:0.05px">of 25T and 25d models</text>
<circle cx="98.14" cy="673.80" r="3.4" fill="#ee0000" stroke="#300000" stroke-width="0.9"/>
<circle cx="139.00" cy="664.60" r="3.4" fill="#ee0000" stroke="#300000" stroke-width="0.9"/>
<rect x="135.50" y="652.60" width="7" height="7" fill="#0000f0" stroke="#101030" stroke-width="0.9"/>
<circle cx="207.10" cy="509.30" r="3.4" fill="#ee0000" stroke="#300000" stroke-width="0.9"/>
<rect x="271.70" y="505.80" width="7" height="7" fill="#0000f0" stroke="#101030" stroke-width="0.9"/>
<circle cx="275.20" cy="444.10" r="3.4" fill="#ee0000" stroke="#300000" stroke-width="0.9"/>
<text x="116.70" y="642.20" font-size="15" text-anchor="start" ><tspan class="o1">1</tspan>5r/<tspan class="o1">1</tspan>5r4</text>
<text x="242.00" y="497.80" font-size="15" text-anchor="start" >25d/25T</text>
<rect x="189.7" y="629.6" width="196.1" height="34.7" fill="#fff" stroke="#1a1a1a" stroke-width="1.5"/>
<circle cx="206.50" cy="640.00" r="3.4" fill="#ee0000" stroke="#300000" stroke-width="0.9"/>
<rect x="203.00" y="650.50" width="7" height="7" fill="#0000f0" stroke="#101030" stroke-width="0.9"/>
<text x="219.40" y="643.80" font-size="12.75" text-anchor="start"  style="stroke-width:0.05px">Woosley &amp; Heger (2007)</text>
<text x="219.40" y="657.60" font-size="12.75" text-anchor="start"  style="stroke-width:0.05px">Pignatari et al. (20<tspan class="o1">1</tspan>3a, 20<tspan class="o1">1</tspan>5)</text>
<rect x="636.40" y="432.80" width="7" height="7" fill="#0000f0" stroke="#101030" stroke-width="0.9"/>
<circle cx="639.90" cy="530.40" r="3.4" fill="#ee0000" stroke="#300000" stroke-width="0.9"/>
<rect x="500.20" y="584.90" width="7" height="7" fill="#0000f0" stroke="#101030" stroke-width="0.9"/>
<circle cx="571.80" cy="587.70" r="3.4" fill="#ee0000" stroke="#300000" stroke-width="0.9"/>
<circle cx="503.70" cy="618.10" r="3.4" fill="#ee0000" stroke="#300000" stroke-width="0.9"/>
<circle cx="462.84" cy="634.40" r="3.4" fill="#ee0000" stroke="#300000" stroke-width="0.9"/>
<rect x="252.7" y="2" width="254.4" height="58.5" fill="#fff" stroke="#1a1a1a" stroke-width="1.6"/>
<path d="M272.40,9.20 L277.35,12.79 L275.46,18.61 L269.34,18.61 L267.45,12.79Z" fill="#ffa500" stroke="#3a2a00" stroke-width="0.9"/>
<text x="288.40" y="19.20" font-size="15" text-anchor="start" >C2</text>
<rect x="320.30" y="9.50" width="9" height="9" fill="#0000f0" stroke="#101030" stroke-width="0.9"/>
<text x="340.20" y="19.20" font-size="15" text-anchor="start" >PNGs</text>
<circle cx="397.90" cy="14.00" r="4.6" fill="#10cccc" stroke="#0a2424" stroke-width="0.95"/>
<text x="415.00" y="19.20" font-size="15" text-anchor="start" >AB<tspan class="o1">1</tspan></text>
<path d="M258.30,31.50 L286.30,31.50" fill="none" stroke="#808080" stroke-width="2.0" stroke-dasharray="2.5,2.8" stroke-linejoin="round"/>
<circle cx="272.30" cy="31.50" r="4.4" fill="#fff" stroke="#a0a0a0" stroke-width="0.9"/><path d="M270.10,29.30L274.50,33.70M274.50,29.30L270.10,33.70" stroke="#a0a0a0" stroke-width="0.7200000000000001"/>
<text x="288.80" y="36.50" font-size="15" text-anchor="start" >25d-H</text>
<path d="M332.60,31.50 L360.60,31.50" fill="none" stroke="#808080" stroke-width="2.0" stroke-dasharray="2.5,2.8" stroke-linejoin="round"/>
<rect x="342.30" y="27.20" width="8.6" height="8.6" fill="#fff" stroke="#a0a0a0" stroke-width="0.9"/><path d="M342.30,27.20L350.90,35.80M350.90,27.20L342.30,35.80" stroke="#a0a0a0" stroke-width="0.7200000000000001"/>
<text x="363.10" y="36.50" font-size="15" text-anchor="start" >25d-H5</text>
<path d="M415.10,31.50 L443.10,31.50" fill="none" stroke="#808080" stroke-width="2.0" stroke-dasharray="2.5,2.8" stroke-linejoin="round"/>
<rect x="424.80" y="27.20" width="8.6" height="8.6" fill="#fff" stroke="#a0a0a0" stroke-width="0.9"/><path d="M429.10,27.20L429.10,35.80M424.80,31.50L433.40,31.50" stroke="#a0a0a0" stroke-width="0.7200000000000001"/>
<text x="445.60" y="36.50" font-size="15" text-anchor="start" >25d-H50</text>
<path d="M258.30,48.80 L286.30,48.80" fill="none" stroke="#808080" stroke-width="1.7" stroke-linejoin="round"/>
<circle cx="272.30" cy="48.80" r="4.4" fill="#fff" stroke="#a0a0a0" stroke-width="0.9"/>
<text x="288.80" y="53.60" font-size="15" text-anchor="start" >25T-H</text>
<path d="M332.60,48.80 L360.60,48.80" fill="none" stroke="#808080" stroke-width="1.7" stroke-linejoin="round"/>
<rect x="342.30" y="44.50" width="8.6" height="8.6" fill="#fff" stroke="#a0a0a0" stroke-width="0.9"/>
<text x="363.10" y="53.60" font-size="15" text-anchor="start" >25T-H5</text>
<path d="M415.10,48.80 L443.10,48.80" fill="none" stroke="#808080" stroke-width="1.7" stroke-linejoin="round"/>
<path d="M429.10,44.30L434.10,52.96L424.10,52.96Z" fill="#fff" stroke="#a0a0a0" stroke-width="0.9" stroke-linejoin="miter"/>
<text x="445.60" y="53.60" font-size="15" text-anchor="start" >25T-H50</text>
<path transform="translate(36.62,79.00) scale(0.00854,-0.00818)" d="M763,0 L583,0 L583,1147 Q518,1085 465,1054 Q412,1023 359,992 Q306,961 223,930 L223,1104 Q374,1175 430.5,1225.5 Q487,1276 543.5,1326.5 Q600,1377 647,1472 L763,1472 Z" fill="#111" stroke="#111" stroke-width="29.3"/>
<path transform="translate(32.78,147.12) scale(0.00854,-0.00818)" d="M763,0 L583,0 L583,1147 Q518,1085 465,1054 Q412,1023 359,992 Q306,961 223,930 L223,1104 Q374,1175 430.5,1225.5 Q487,1276 543.5,1326.5 Q600,1377 647,1472 L763,1472 Z" fill="#111" stroke="#111" stroke-width="29.3"/>
<path transform="translate(56.09,135.62) scale(0.00562,-0.00537)" d="M763,0 L583,0 L583,1147 Q518,1085 465,1054 Q412,1023 359,992 Q306,961 223,930 L223,1104 Q374,1175 430.5,1225.5 Q487,1276 543.5,1326.5 Q600,1377 647,1472 L763,1472 Z" fill="#111" stroke="#111" stroke-width="8.9"/>
<path transform="translate(32.80,215.25) scale(0.00854,-0.00818)" d="M763,0 L583,0 L583,1147 Q518,1085 465,1054 Q412,1023 359,992 Q306,961 223,930 L223,1104 Q374,1175 430.5,1225.5 Q487,1276 543.5,1326.5 Q600,1377 647,1472 L763,1472 Z" fill="#111" stroke="#111" stroke-width="29.3"/>
<path transform="translate(32.80,283.38) scale(0.00854,-0.00818)" d="M763,0 L583,0 L583,1147 Q518,1085 465,1054 Q412,1023 359,992 Q306,961 223,930 L223,1104 Q374,1175 430.5,1225.5 Q487,1276 543.5,1326.5 Q600,1377 647,1472 L763,1472 Z" fill="#111" stroke="#111" stroke-width="29.3"/>
<path transform="translate(32.80,351.50) scale(0.00854,-0.00818)" d="M763,0 L583,0 L583,1147 Q518,1085 465,1054 Q412,1023 359,992 Q306,961 223,930 L223,1104 Q374,1175 430.5,1225.5 Q487,1276 543.5,1326.5 Q600,1377 647,1472 L763,1472 Z" fill="#111" stroke="#111" stroke-width="29.3"/>
<path transform="translate(58.36,373.00) scale(0.00854,-0.00818)" d="M763,0 L583,0 L583,1147 Q518,1085 465,1054 Q412,1023 359,992 Q306,961 223,930 L223,1104 Q374,1175 430.5,1225.5 Q487,1276 543.5,1326.5 Q600,1377 647,1472 L763,1472 Z" fill="#111" stroke="#111" stroke-width="29.3"/>
<path transform="translate(116.31,373.00) scale(0.00854,-0.00818)" d="M763,0 L583,0 L583,1147 Q518,1085 465,1054 Q412,1023 359,992 Q306,961 223,930 L223,1104 Q374,1175 430.5,1225.5 Q487,1276 543.5,1326.5 Q600,1377 647,1472 L763,1472 Z" fill="#111" stroke="#111" stroke-width="29.3"/>
<path transform="translate(135.78,361.50) scale(0.00562,-0.00537)" d="M763,0 L583,0 L583,1147 Q518,1085 465,1054 Q412,1023 359,992 Q306,961 223,930 L223,1104 Q374,1175 430.5,1225.5 Q487,1276 543.5,1326.5 Q600,1377 647,1472 L763,1472 Z" fill="#111" stroke="#111" stroke-width="8.9"/>
<path transform="translate(174.26,373.00) scale(0.00854,-0.00818)" d="M763,0 L583,0 L583,1147 Q518,1085 465,1054 Q412,1023 359,992 Q306,961 223,930 L223,1104 Q374,1175 430.5,1225.5 Q487,1276 543.5,1326.5 Q600,1377 647,1472 L763,1472 Z" fill="#111" stroke="#111" stroke-width="29.3"/>
<path transform="translate(232.21,373.00) scale(0.00854,-0.00818)" d="M763,0 L583,0 L583,1147 Q518,1085 465,1054 Q412,1023 359,992 Q306,961 223,930 L223,1104 Q374,1175 430.5,1225.5 Q487,1276 543.5,1326.5 Q600,1377 647,1472 L763,1472 Z" fill="#111" stroke="#111" stroke-width="29.3"/>
<path transform="translate(290.16,373.00) scale(0.00854,-0.00818)" d="M763,0 L583,0 L583,1147 Q518,1085 465,1054 Q412,1023 359,992 Q306,961 223,930 L223,1104 Q374,1175 430.5,1225.5 Q487,1276 543.5,1326.5 Q600,1377 647,1472 L763,1472 Z" fill="#111" stroke="#111" stroke-width="29.3"/>
<path transform="translate(400.12,84.30) scale(0.00854,-0.00818)" d="M763,0 L583,0 L583,1147 Q518,1085 465,1054 Q412,1023 359,992 Q306,961 223,930 L223,1104 Q374,1175 430.5,1225.5 Q487,1276 543.5,1326.5 Q600,1377 647,1472 L763,1472 Z" fill="#111" stroke="#111" stroke-width="29.3"/>
<path transform="translate(396.28,152.30) scale(0.00854,-0.00818)" d="M763,0 L583,0 L583,1147 Q518,1085 465,1054 Q412,1023 359,992 Q306,961 223,930 L223,1104 Q374,1175 430.5,1225.5 Q487,1276 543.5,1326.5 Q600,1377 647,1472 L763,1472 Z" fill="#111" stroke="#111" stroke-width="29.3"/>
<path transform="translate(419.59,140.80) scale(0.00562,-0.00537)" d="M763,0 L583,0 L583,1147 Q518,1085 465,1054 Q412,1023 359,992 Q306,961 223,930 L223,1104 Q374,1175 430.5,1225.5 Q487,1276 543.5,1326.5 Q600,1377 647,1472 L763,1472 Z" fill="#111" stroke="#111" stroke-width="8.9"/>
<path transform="translate(396.30,220.30) scale(0.00854,-0.00818)" d="M763,0 L583,0 L583,1147 Q518,1085 465,1054 Q412,1023 359,992 Q306,961 223,930 L223,1104 Q374,1175 430.5,1225.5 Q487,1276 543.5,1326.5 Q600,1377 647,1472 L763,1472 Z" fill="#111" stroke="#111" stroke-width="29.3"/>
<path transform="translate(396.30,288.30) scale(0.00854,-0.00818)" d="M763,0 L583,0 L583,1147 Q518,1085 465,1054 Q412,1023 359,992 Q306,961 223,930 L223,1104 Q374,1175 430.5,1225.5 Q487,1276 543.5,1326.5 Q600,1377 647,1472 L763,1472 Z" fill="#111" stroke="#111" stroke-width="29.3"/>
<path transform="translate(396.30,356.30) scale(0.00854,-0.00818)" d="M763,0 L583,0 L583,1147 Q518,1085 465,1054 Q412,1023 359,992 Q306,961 223,930 L223,1104 Q374,1175 430.5,1225.5 Q487,1276 543.5,1326.5 Q600,1377 647,1472 L763,1472 Z" fill="#111" stroke="#111" stroke-width="29.3"/>
<path transform="translate(429.43,371.80) scale(0.00854,-0.00818)" d="M763,0 L583,0 L583,1147 Q518,1085 465,1054 Q412,1023 359,992 Q306,961 223,930 L223,1104 Q374,1175 430.5,1225.5 Q487,1276 543.5,1326.5 Q600,1377 647,1472 L763,1472 Z" fill="#111" stroke="#111" stroke-width="29.3"/>
<path transform="translate(496.70,371.80) scale(0.00854,-0.00818)" d="M763,0 L583,0 L583,1147 Q518,1085 465,1054 Q412,1023 359,992 Q306,961 223,930 L223,1104 Q374,1175 430.5,1225.5 Q487,1276 543.5,1326.5 Q600,1377 647,1472 L763,1472 Z" fill="#111" stroke="#111" stroke-width="29.3"/>
<path transform="translate(563.96,371.80) scale(0.00854,-0.00818)" d="M763,0 L583,0 L583,1147 Q518,1085 465,1054 Q412,1023 359,992 Q306,961 223,930 L223,1104 Q374,1175 430.5,1225.5 Q487,1276 543.5,1326.5 Q600,1377 647,1472 L763,1472 Z" fill="#111" stroke="#111" stroke-width="29.3"/>
<path transform="translate(631.22,371.80) scale(0.00854,-0.00818)" d="M763,0 L583,0 L583,1147 Q518,1085 465,1054 Q412,1023 359,992 Q306,961 223,930 L223,1104 Q374,1175 430.5,1225.5 Q487,1276 543.5,1326.5 Q600,1377 647,1472 L763,1472 Z" fill="#111" stroke="#111" stroke-width="29.3"/>
<path transform="translate(60.28,709.20) scale(0.00977,-0.00935)" d="M763,0 L583,0 L583,1147 Q518,1085 465,1054 Q412,1023 359,992 Q306,961 223,930 L223,1104 Q374,1175 430.5,1225.5 Q487,1276 543.5,1326.5 Q600,1377 647,1472 L763,1472 Z" fill="#111" stroke="#111" stroke-width="25.6"/>
<path transform="translate(128.38,709.20) scale(0.00977,-0.00935)" d="M763,0 L583,0 L583,1147 Q518,1085 465,1054 Q412,1023 359,992 Q306,961 223,930 L223,1104 Q374,1175 430.5,1225.5 Q487,1276 543.5,1326.5 Q600,1377 647,1472 L763,1472 Z" fill="#111" stroke="#111" stroke-width="25.6"/>
<path transform="translate(32.36,507.70) scale(0.00854,-0.00818)" d="M763,0 L583,0 L583,1147 Q518,1085 465,1054 Q412,1023 359,992 Q306,961 223,930 L223,1104 Q374,1175 430.5,1225.5 Q487,1276 543.5,1326.5 Q600,1377 647,1472 L763,1472 Z" fill="#111" stroke="#111" stroke-width="29.3"/>
<path transform="translate(32.36,630.30) scale(0.00854,-0.00818)" d="M763,0 L583,0 L583,1147 Q518,1085 465,1054 Q412,1023 359,992 Q306,961 223,930 L223,1104 Q374,1175 430.5,1225.5 Q487,1276 543.5,1326.5 Q600,1377 647,1472 L763,1472 Z" fill="#111" stroke="#111" stroke-width="29.3"/>
<path transform="translate(424.98,709.20) scale(0.00977,-0.00935)" d="M763,0 L583,0 L583,1147 Q518,1085 465,1054 Q412,1023 359,992 Q306,961 223,930 L223,1104 Q374,1175 430.5,1225.5 Q487,1276 543.5,1326.5 Q600,1377 647,1472 L763,1472 Z" fill="#111" stroke="#111" stroke-width="25.6"/>
<path transform="translate(493.08,709.20) scale(0.00977,-0.00935)" d="M763,0 L583,0 L583,1147 Q518,1085 465,1054 Q412,1023 359,992 Q306,961 223,930 L223,1104 Q374,1175 430.5,1225.5 Q487,1276 543.5,1326.5 Q600,1377 647,1472 L763,1472 Z" fill="#111" stroke="#111" stroke-width="25.6"/>
<path transform="translate(401.66,533.60) scale(0.00830,-0.00795)" d="M763,0 L583,0 L583,1147 Q518,1085 465,1054 Q412,1023 359,992 Q306,961 223,930 L223,1104 Q374,1175 430.5,1225.5 Q487,1276 543.5,1326.5 Q600,1377 647,1472 L763,1472 Z" fill="#111" stroke="#111" stroke-width="30.1"/>
<path transform="translate(401.66,693.90) scale(0.00830,-0.00795)" d="M763,0 L583,0 L583,1147 Q518,1085 465,1054 Q412,1023 359,992 Q306,961 223,930 L223,1104 Q374,1175 430.5,1225.5 Q487,1276 543.5,1326.5 Q600,1377 647,1472 L763,1472 Z" fill="#111" stroke="#111" stroke-width="30.1"/>
<path transform="translate(116.70,642.20) scale(0.00732,-0.00701)" d="M763,0 L583,0 L583,1147 Q518,1085 465,1054 Q412,1023 359,992 Q306,961 223,930 L223,1104 Q374,1175 430.5,1225.5 Q487,1276 543.5,1326.5 Q600,1377 647,1472 L763,1472 Z" fill="#111" stroke="#111" stroke-width="34.1"/>
<path transform="translate(142.56,642.20) scale(0.00732,-0.00701)" d="M763,0 L583,0 L583,1147 Q518,1085 465,1054 Q412,1023 359,992 Q306,961 223,930 L223,1104 Q374,1175 430.5,1225.5 Q487,1276 543.5,1326.5 Q600,1377 647,1472 L763,1472 Z" fill="#111" stroke="#111" stroke-width="34.1"/>
<path transform="translate(322.88,657.60) scale(0.00623,-0.00596)" d="M763,0 L583,0 L583,1147 Q518,1085 465,1054 Q412,1023 359,992 Q306,961 223,930 L223,1104 Q374,1175 430.5,1225.5 Q487,1276 543.5,1326.5 Q600,1377 647,1472 L763,1472 Z" fill="#111" stroke="#111" stroke-width="8.0"/>
<path transform="translate(365.43,657.60) scale(0.00623,-0.00596)" d="M763,0 L583,0 L583,1147 Q518,1085 465,1054 Q412,1023 359,992 Q306,961 223,930 L223,1104 Q374,1175 430.5,1225.5 Q487,1276 543.5,1326.5 Q600,1377 647,1472 L763,1472 Z" fill="#111" stroke="#111" stroke-width="8.0"/>
<path transform="translate(435.02,19.20) scale(0.00732,-0.00701)" d="M763,0 L583,0 L583,1147 Q518,1085 465,1054 Q412,1023 359,992 Q306,961 223,930 L223,1104 Q374,1175 430.5,1225.5 Q487,1276 543.5,1326.5 Q600,1377 647,1472 L763,1472 Z" fill="#111" stroke="#111" stroke-width="34.1"/>
</svg></body></html>
